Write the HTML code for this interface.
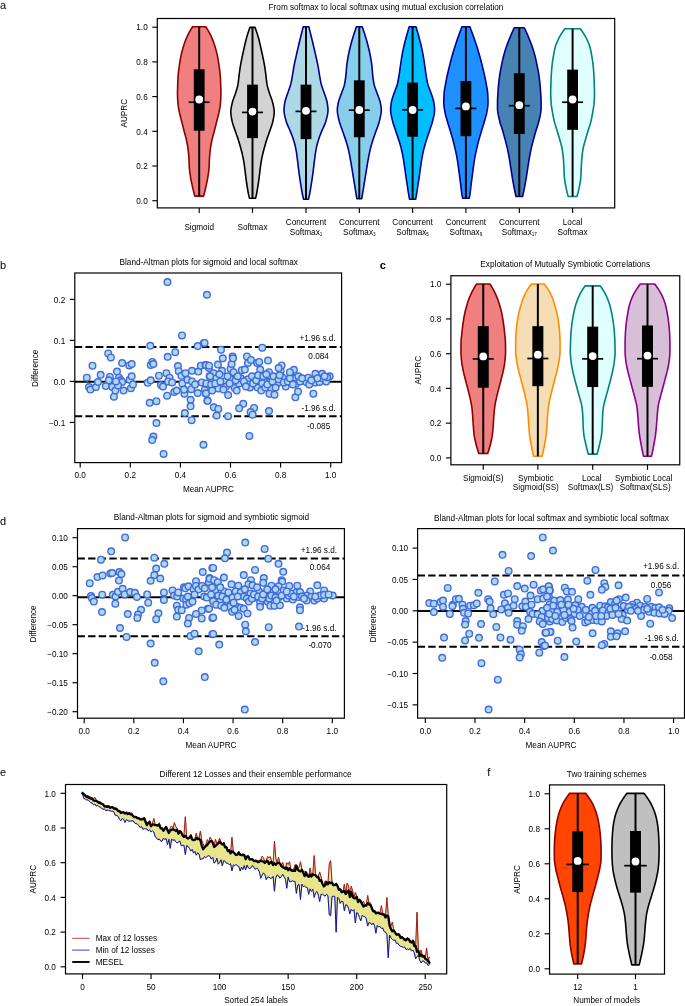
<!DOCTYPE html>
<html><head><meta charset="utf-8"><title>figure</title>
<style>
html,body{margin:0;padding:0;background:#fff;}
body{width:685px;height:1006px;overflow:hidden;}
svg{display:block;will-change:transform;opacity:0.9999;}
text{font-family:"Liberation Sans",sans-serif;fill:#000;}
</style></head><body>
<svg width="685" height="1006" viewBox="0 0 685 1006">
<rect width="685" height="1006" fill="#fff"/>
<text x="-0.1" y="8.9" font-size="11" text-anchor="start">a</text>
<text x="386" y="10.2" font-size="8.2" text-anchor="middle">From softmax to local softmax using mutual exclusion correlation</text>
<path d="M192.6 26.8 L191.39 28.7 L190.24 30.61 L189.16 32.51 L188.15 34.41 L187.22 36.31 L186.37 38.22 L185.6 40.12 L184.89 42.02 L184.23 43.92 L183.62 45.82 L183.06 47.73 L182.52 49.63 L182.01 51.53 L181.53 53.43 L181.1 55.34 L180.71 57.24 L180.36 59.14 L180.03 61.04 L179.73 62.94 L179.46 64.85 L179.19 66.75 L178.93 68.65 L178.68 70.55 L178.45 72.46 L178.26 74.36 L178.12 76.26 L177.99 78.16 L177.88 80.06 L177.79 81.97 L177.72 83.87 L177.66 85.77 L177.6 87.67 L177.55 89.58 L177.51 91.48 L177.5 93.38 L177.52 95.28 L177.58 97.19 L177.67 99.09 L177.79 100.99 L177.91 102.89 L178.1 104.79 L178.36 106.7 L178.68 108.6 L179.03 110.5 L179.4 112.4 L179.82 114.31 L180.3 116.21 L180.81 118.11 L181.32 120.01 L181.8 121.91 L182.28 123.82 L182.75 125.72 L183.22 127.62 L183.7 129.52 L184.2 131.43 L184.71 133.33 L185.24 135.23 L185.74 137.13 L186.2 139.04 L186.61 140.94 L187.01 142.84 L187.38 144.74 L187.71 146.64 L187.98 148.55 L188.22 150.45 L188.43 152.35 L188.62 154.25 L188.78 156.16 L188.91 158.06 L189 159.96 L189.08 161.86 L189.14 163.76 L189.22 165.67 L189.33 167.57 L189.5 169.47 L189.72 171.37 L189.97 173.28 L190.24 175.18 L190.53 177.08 L190.86 178.98 L191.23 180.88 L191.63 182.79 L192.04 184.69 L192.45 186.59 L192.89 188.49 L193.34 190.4 L193.81 192.3 L194.3 194.2 L194.8 196.1 L203.6 196.1 L204.1 194.2 L204.59 192.3 L205.06 190.4 L205.51 188.49 L205.95 186.59 L206.36 184.69 L206.77 182.79 L207.17 180.88 L207.54 178.98 L207.87 177.08 L208.16 175.18 L208.43 173.28 L208.68 171.37 L208.9 169.47 L209.07 167.57 L209.18 165.67 L209.26 163.76 L209.32 161.86 L209.4 159.96 L209.49 158.06 L209.62 156.16 L209.78 154.25 L209.97 152.35 L210.18 150.45 L210.42 148.55 L210.69 146.64 L211.02 144.74 L211.39 142.84 L211.79 140.94 L212.2 139.04 L212.66 137.13 L213.16 135.23 L213.69 133.33 L214.2 131.43 L214.7 129.52 L215.18 127.62 L215.65 125.72 L216.12 123.82 L216.6 121.91 L217.08 120.01 L217.59 118.11 L218.1 116.21 L218.58 114.31 L219 112.4 L219.37 110.5 L219.72 108.6 L220.04 106.7 L220.3 104.79 L220.49 102.89 L220.61 100.99 L220.73 99.09 L220.82 97.19 L220.88 95.28 L220.9 93.38 L220.89 91.48 L220.85 89.58 L220.8 87.67 L220.74 85.77 L220.68 83.87 L220.61 81.97 L220.52 80.06 L220.41 78.16 L220.28 76.26 L220.14 74.36 L219.95 72.46 L219.72 70.55 L219.47 68.65 L219.21 66.75 L218.94 64.85 L218.67 62.94 L218.37 61.04 L218.04 59.14 L217.69 57.24 L217.3 55.34 L216.87 53.43 L216.39 51.53 L215.88 49.63 L215.34 47.73 L214.78 45.82 L214.17 43.92 L213.51 42.02 L212.8 40.12 L212.03 38.22 L211.18 36.31 L210.25 34.41 L209.24 32.51 L208.16 30.61 L207.01 28.7 L205.8 26.8 Z" fill="#F08080" stroke="#8B0000" stroke-width="1.6" stroke-linejoin="round"/>
<line x1="199.2" y1="26.8" x2="199.2" y2="196.1" stroke="#000" stroke-width="2"/>
<rect x="193.8" y="69.29" width="10.8" height="61.41" fill="#000"/>
<line x1="188.7" y1="102.24" x2="209.7" y2="102.24" stroke="#000" stroke-width="1.7"/>
<circle cx="199.2" cy="99.48" r="3.9" fill="#fff"/>
<path d="M250 27.35 L249.3 29.27 L248.62 31.19 L247.98 33.12 L247.37 35.04 L246.8 36.96 L246.27 38.88 L245.77 40.8 L245.31 42.72 L244.86 44.64 L244.43 46.56 L243.99 48.48 L243.56 50.4 L243.14 52.32 L242.73 54.24 L242.32 56.17 L241.93 58.09 L241.53 60.01 L241.14 61.93 L240.77 63.85 L240.43 65.77 L240.13 67.69 L239.84 69.61 L239.58 71.53 L239.32 73.45 L239.07 75.37 L238.85 77.3 L238.65 79.22 L238.44 81.14 L238.2 83.06 L237.88 84.98 L237.44 86.9 L236.89 88.82 L236.29 90.74 L235.67 92.66 L235.06 94.58 L234.36 96.5 L233.64 98.42 L232.96 100.35 L232.41 102.27 L231.97 104.19 L231.54 106.11 L231.17 108.03 L230.9 109.95 L230.8 111.87 L230.88 113.79 L231.1 115.71 L231.42 117.63 L231.79 119.55 L232.18 121.47 L232.66 123.4 L233.26 125.32 L233.93 127.24 L234.61 129.16 L235.26 131.08 L235.94 133 L236.63 134.92 L237.31 136.84 L237.97 138.76 L238.58 140.68 L239.17 142.6 L239.74 144.52 L240.29 146.45 L240.82 148.37 L241.32 150.29 L241.82 152.21 L242.29 154.13 L242.72 156.05 L243.12 157.97 L243.48 159.89 L243.81 161.81 L244.12 163.73 L244.4 165.65 L244.67 167.58 L244.91 169.5 L245.13 171.42 L245.35 173.34 L245.58 175.26 L245.82 177.18 L246.08 179.1 L246.34 181.02 L246.62 182.94 L246.91 184.86 L247.21 186.78 L247.52 188.7 L247.84 190.63 L248.19 192.55 L248.57 194.47 L249 196.39 L249.5 198.31 L255.5 198.31 L256 196.39 L256.43 194.47 L256.81 192.55 L257.16 190.63 L257.48 188.7 L257.79 186.78 L258.09 184.86 L258.38 182.94 L258.66 181.02 L258.92 179.1 L259.18 177.18 L259.42 175.26 L259.65 173.34 L259.87 171.42 L260.09 169.5 L260.33 167.58 L260.6 165.65 L260.88 163.73 L261.19 161.81 L261.52 159.89 L261.88 157.97 L262.28 156.05 L262.71 154.13 L263.18 152.21 L263.68 150.29 L264.18 148.37 L264.71 146.45 L265.26 144.52 L265.83 142.6 L266.42 140.68 L267.03 138.76 L267.69 136.84 L268.37 134.92 L269.06 133 L269.74 131.08 L270.39 129.16 L271.07 127.24 L271.74 125.32 L272.34 123.4 L272.82 121.47 L273.21 119.55 L273.58 117.63 L273.9 115.71 L274.12 113.79 L274.2 111.87 L274.1 109.95 L273.83 108.03 L273.46 106.11 L273.03 104.19 L272.59 102.27 L272.04 100.35 L271.36 98.42 L270.64 96.5 L269.94 94.58 L269.33 92.66 L268.71 90.74 L268.11 88.82 L267.56 86.9 L267.12 84.98 L266.8 83.06 L266.56 81.14 L266.35 79.22 L266.15 77.3 L265.93 75.37 L265.68 73.45 L265.42 71.53 L265.16 69.61 L264.87 67.69 L264.57 65.77 L264.23 63.85 L263.86 61.93 L263.47 60.01 L263.07 58.09 L262.68 56.17 L262.27 54.24 L261.86 52.32 L261.44 50.4 L261.01 48.48 L260.57 46.56 L260.14 44.64 L259.69 42.72 L259.23 40.8 L258.73 38.88 L258.2 36.96 L257.63 35.04 L257.02 33.12 L256.38 31.19 L255.7 29.27 L255 27.35 Z" fill="#D3D3D3" stroke="#000" stroke-width="1.6" stroke-linejoin="round"/>
<line x1="252.5" y1="27.35" x2="252.5" y2="198.31" stroke="#000" stroke-width="2"/>
<rect x="247.1" y="84.64" width="10.8" height="53.48" fill="#000"/>
<line x1="242" y1="112.41" x2="263" y2="112.41" stroke="#000" stroke-width="1.7"/>
<circle cx="252.5" cy="111.55" r="3.9" fill="#fff"/>
<path d="M303.2 26.8 L302.7 28.74 L302.21 30.68 L301.73 32.61 L301.24 34.55 L300.76 36.49 L300.29 38.43 L299.82 40.36 L299.35 42.3 L298.89 44.24 L298.43 46.18 L297.97 48.11 L297.52 50.05 L297.08 51.99 L296.64 53.92 L296.2 55.86 L295.77 57.8 L295.33 59.74 L294.89 61.67 L294.47 63.61 L294.08 65.55 L293.73 67.49 L293.41 69.42 L293.12 71.36 L292.81 73.3 L292.48 75.24 L292.14 77.17 L291.8 79.11 L291.43 81.05 L291.02 82.99 L290.55 84.92 L289.96 86.86 L289.28 88.8 L288.57 90.73 L287.88 92.67 L287.24 94.61 L286.56 96.55 L285.89 98.48 L285.3 100.42 L284.86 102.36 L284.55 104.3 L284.28 106.23 L284.08 108.17 L284 110.11 L284.1 112.05 L284.37 113.98 L284.76 115.92 L285.24 117.86 L285.75 119.8 L286.28 121.73 L286.97 123.67 L287.81 125.61 L288.7 127.55 L289.57 129.48 L290.35 131.42 L291.14 133.36 L291.91 135.29 L292.64 137.23 L293.3 139.17 L293.89 141.11 L294.45 143.04 L294.97 144.98 L295.43 146.92 L295.83 148.86 L296.18 150.79 L296.49 152.73 L296.77 154.67 L297.03 156.61 L297.29 158.54 L297.53 160.48 L297.76 162.42 L297.98 164.36 L298.21 166.29 L298.45 168.23 L298.69 170.17 L298.94 172.1 L299.2 174.04 L299.46 175.98 L299.74 177.92 L300.02 179.85 L300.32 181.79 L300.62 183.73 L300.94 185.67 L301.25 187.6 L301.57 189.54 L301.9 191.48 L302.26 193.42 L302.65 195.35 L303.11 197.29 L303.6 199.23 L308.4 199.23 L308.89 197.29 L309.35 195.35 L309.74 193.42 L310.1 191.48 L310.43 189.54 L310.75 187.6 L311.06 185.67 L311.38 183.73 L311.68 181.79 L311.98 179.85 L312.26 177.92 L312.54 175.98 L312.8 174.04 L313.06 172.1 L313.31 170.17 L313.55 168.23 L313.79 166.29 L314.02 164.36 L314.24 162.42 L314.47 160.48 L314.71 158.54 L314.97 156.61 L315.23 154.67 L315.51 152.73 L315.82 150.79 L316.17 148.86 L316.57 146.92 L317.03 144.98 L317.55 143.04 L318.11 141.11 L318.7 139.17 L319.36 137.23 L320.09 135.29 L320.86 133.36 L321.65 131.42 L322.43 129.48 L323.3 127.55 L324.19 125.61 L325.03 123.67 L325.72 121.73 L326.25 119.8 L326.76 117.86 L327.24 115.92 L327.63 113.98 L327.9 112.05 L328 110.11 L327.92 108.17 L327.72 106.23 L327.45 104.3 L327.14 102.36 L326.7 100.42 L326.11 98.48 L325.44 96.55 L324.76 94.61 L324.12 92.67 L323.43 90.73 L322.72 88.8 L322.04 86.86 L321.45 84.92 L320.98 82.99 L320.57 81.05 L320.2 79.11 L319.86 77.17 L319.52 75.24 L319.19 73.3 L318.88 71.36 L318.59 69.42 L318.27 67.49 L317.92 65.55 L317.53 63.61 L317.11 61.67 L316.67 59.74 L316.23 57.8 L315.8 55.86 L315.36 53.92 L314.92 51.99 L314.48 50.05 L314.03 48.11 L313.57 46.18 L313.11 44.24 L312.65 42.3 L312.18 40.36 L311.71 38.43 L311.24 36.49 L310.76 34.55 L310.27 32.61 L309.79 30.68 L309.3 28.74 L308.8 26.8 Z" fill="#ADD8E6" stroke="#00008B" stroke-width="1.6" stroke-linejoin="round"/>
<line x1="306" y1="26.8" x2="306" y2="199.23" stroke="#000" stroke-width="2"/>
<rect x="300.6" y="84.64" width="10.8" height="54.51" fill="#000"/>
<line x1="295.5" y1="111.38" x2="316.5" y2="111.38" stroke="#000" stroke-width="1.7"/>
<circle cx="306" cy="110.86" r="3.9" fill="#fff"/>
<path d="M356.4 26.8 L355.72 28.73 L355.05 30.66 L354.41 32.6 L353.78 34.53 L353.18 36.46 L352.6 38.39 L352.03 40.32 L351.49 42.25 L350.96 44.18 L350.46 46.11 L349.99 48.04 L349.53 49.98 L349.09 51.91 L348.67 53.84 L348.28 55.77 L347.93 57.7 L347.6 59.63 L347.29 61.56 L347.01 63.49 L346.76 65.43 L346.56 67.36 L346.4 69.29 L346.25 71.22 L346.09 73.15 L345.91 75.08 L345.68 77.01 L345.43 78.94 L345.14 80.87 L344.8 82.81 L344.41 84.74 L343.88 86.67 L343.22 88.6 L342.5 90.53 L341.77 92.46 L341.1 94.39 L340.37 96.32 L339.63 98.26 L338.96 100.19 L338.43 102.12 L338.04 104.05 L337.69 105.98 L337.42 107.91 L337.3 109.84 L337.37 111.77 L337.6 113.7 L337.94 115.64 L338.36 117.57 L338.82 119.5 L339.28 121.43 L339.82 123.36 L340.47 125.29 L341.18 127.22 L341.9 129.15 L342.57 131.09 L343.26 133.02 L343.95 134.95 L344.63 136.88 L345.28 138.81 L345.9 140.74 L346.51 142.67 L347.09 144.6 L347.64 146.53 L348.15 148.47 L348.6 150.4 L349.02 152.33 L349.41 154.26 L349.78 156.19 L350.15 158.12 L350.5 160.05 L350.84 161.98 L351.17 163.92 L351.5 165.85 L351.82 167.78 L352.14 169.71 L352.45 171.64 L352.77 173.57 L353.08 175.5 L353.39 177.43 L353.71 179.36 L354.02 181.3 L354.34 183.23 L354.65 185.16 L354.97 187.09 L355.28 189.02 L355.59 190.95 L355.91 192.88 L356.23 194.81 L356.56 196.75 L356.9 198.68 L361.7 198.68 L362.04 196.75 L362.37 194.81 L362.69 192.88 L363.01 190.95 L363.32 189.02 L363.63 187.09 L363.95 185.16 L364.26 183.23 L364.58 181.3 L364.89 179.36 L365.21 177.43 L365.52 175.5 L365.83 173.57 L366.15 171.64 L366.46 169.71 L366.78 167.78 L367.1 165.85 L367.43 163.92 L367.76 161.98 L368.1 160.05 L368.45 158.12 L368.82 156.19 L369.19 154.26 L369.58 152.33 L370 150.4 L370.45 148.47 L370.96 146.53 L371.51 144.6 L372.09 142.67 L372.7 140.74 L373.32 138.81 L373.97 136.88 L374.65 134.95 L375.34 133.02 L376.03 131.09 L376.7 129.15 L377.42 127.22 L378.13 125.29 L378.78 123.36 L379.32 121.43 L379.78 119.5 L380.24 117.57 L380.66 115.64 L381 113.7 L381.23 111.77 L381.3 109.84 L381.18 107.91 L380.91 105.98 L380.56 104.05 L380.17 102.12 L379.64 100.19 L378.97 98.26 L378.23 96.32 L377.5 94.39 L376.83 92.46 L376.1 90.53 L375.38 88.6 L374.72 86.67 L374.19 84.74 L373.8 82.81 L373.46 80.87 L373.17 78.94 L372.92 77.01 L372.69 75.08 L372.51 73.15 L372.35 71.22 L372.2 69.29 L372.04 67.36 L371.84 65.43 L371.59 63.49 L371.31 61.56 L371 59.63 L370.67 57.7 L370.32 55.77 L369.93 53.84 L369.51 51.91 L369.07 49.98 L368.61 48.04 L368.14 46.11 L367.64 44.18 L367.11 42.25 L366.57 40.32 L366 38.39 L365.42 36.46 L364.82 34.53 L364.19 32.6 L363.55 30.66 L362.88 28.73 L362.2 26.8 Z" fill="#87CEEB" stroke="#00008B" stroke-width="1.6" stroke-linejoin="round"/>
<line x1="359.3" y1="26.8" x2="359.3" y2="198.68" stroke="#000" stroke-width="2"/>
<rect x="353.9" y="80.33" width="10.8" height="56.92" fill="#000"/>
<line x1="348.8" y1="110.17" x2="369.8" y2="110.17" stroke="#000" stroke-width="1.7"/>
<circle cx="359.3" cy="110" r="3.9" fill="#fff"/>
<path d="M409.2 26.8 L408.62 28.74 L408.05 30.68 L407.49 32.61 L406.94 34.55 L406.41 36.49 L405.89 38.43 L405.38 40.36 L404.87 42.3 L404.38 44.24 L403.92 46.18 L403.48 48.11 L403.07 50.05 L402.68 51.99 L402.31 53.92 L401.96 55.86 L401.63 57.8 L401.32 59.74 L401.03 61.67 L400.74 63.61 L400.46 65.55 L400.18 67.49 L399.92 69.42 L399.66 71.36 L399.39 73.3 L399.09 75.24 L398.76 77.17 L398.42 79.11 L398.05 81.05 L397.63 82.99 L397.14 84.92 L396.52 86.86 L395.78 88.8 L395.02 90.73 L394.29 92.67 L393.64 94.61 L392.97 96.55 L392.33 98.48 L391.77 100.42 L391.35 102.36 L391.08 104.3 L390.84 106.23 L390.66 108.17 L390.6 110.11 L390.7 112.05 L390.97 113.98 L391.35 115.92 L391.81 117.86 L392.29 119.8 L392.75 121.73 L393.29 123.67 L393.91 125.61 L394.57 127.55 L395.23 129.48 L395.87 131.42 L396.53 133.36 L397.2 135.29 L397.87 137.23 L398.5 139.17 L399.11 141.11 L399.72 143.04 L400.3 144.98 L400.85 146.92 L401.34 148.86 L401.79 150.79 L402.21 152.73 L402.61 154.67 L402.97 156.61 L403.32 158.54 L403.63 160.48 L403.93 162.42 L404.21 164.36 L404.49 166.29 L404.77 168.23 L405.04 170.17 L405.31 172.1 L405.58 174.04 L405.86 175.98 L406.15 177.92 L406.44 179.85 L406.74 181.79 L407.04 183.73 L407.33 185.67 L407.62 187.6 L407.9 189.54 L408.19 191.48 L408.5 193.42 L408.83 195.35 L409.2 197.29 L409.6 199.23 L415.6 199.23 L416 197.29 L416.37 195.35 L416.7 193.42 L417.01 191.48 L417.3 189.54 L417.58 187.6 L417.87 185.67 L418.16 183.73 L418.46 181.79 L418.76 179.85 L419.05 177.92 L419.34 175.98 L419.62 174.04 L419.89 172.1 L420.16 170.17 L420.43 168.23 L420.71 166.29 L420.99 164.36 L421.27 162.42 L421.57 160.48 L421.88 158.54 L422.23 156.61 L422.59 154.67 L422.99 152.73 L423.41 150.79 L423.86 148.86 L424.35 146.92 L424.9 144.98 L425.48 143.04 L426.09 141.11 L426.7 139.17 L427.33 137.23 L428 135.29 L428.67 133.36 L429.33 131.42 L429.97 129.48 L430.63 127.55 L431.29 125.61 L431.91 123.67 L432.45 121.73 L432.91 119.8 L433.39 117.86 L433.85 115.92 L434.23 113.98 L434.5 112.05 L434.6 110.11 L434.54 108.17 L434.36 106.23 L434.12 104.3 L433.85 102.36 L433.43 100.42 L432.87 98.48 L432.23 96.55 L431.56 94.61 L430.91 92.67 L430.18 90.73 L429.42 88.8 L428.68 86.86 L428.06 84.92 L427.57 82.99 L427.15 81.05 L426.78 79.11 L426.44 77.17 L426.11 75.24 L425.81 73.3 L425.54 71.36 L425.28 69.42 L425.02 67.49 L424.74 65.55 L424.46 63.61 L424.17 61.67 L423.88 59.74 L423.57 57.8 L423.24 55.86 L422.89 53.92 L422.52 51.99 L422.13 50.05 L421.72 48.11 L421.28 46.18 L420.82 44.24 L420.33 42.3 L419.82 40.36 L419.31 38.43 L418.79 36.49 L418.26 34.55 L417.71 32.61 L417.15 30.68 L416.58 28.74 L416 26.8 Z" fill="#00BFFF" stroke="#00008B" stroke-width="1.6" stroke-linejoin="round"/>
<line x1="412.6" y1="26.8" x2="412.6" y2="199.23" stroke="#000" stroke-width="2"/>
<rect x="407.2" y="82.57" width="10.8" height="54.17" fill="#000"/>
<line x1="402.1" y1="109.83" x2="423.1" y2="109.83" stroke="#000" stroke-width="1.7"/>
<circle cx="412.6" cy="110" r="3.9" fill="#fff"/>
<path d="M461.9 26.8 L461.18 28.73 L460.47 30.66 L459.76 32.58 L459.07 34.51 L458.38 36.44 L457.71 38.36 L457.03 40.29 L456.37 42.22 L455.72 44.14 L455.08 46.07 L454.47 48 L453.87 49.93 L453.3 51.85 L452.74 53.78 L452.19 55.71 L451.66 57.63 L451.14 59.56 L450.64 61.49 L450.14 63.42 L449.65 65.34 L449.17 67.27 L448.69 69.2 L448.22 71.12 L447.77 73.05 L447.34 74.98 L446.93 76.9 L446.53 78.83 L446.15 80.76 L445.79 82.69 L445.45 84.61 L445.1 86.54 L444.75 88.47 L444.43 90.39 L444.19 92.32 L444.06 94.25 L443.97 96.18 L443.89 98.1 L443.83 100.03 L443.8 101.96 L443.83 103.88 L443.98 105.81 L444.22 107.74 L444.52 109.66 L444.85 111.59 L445.21 113.52 L445.68 115.45 L446.21 117.37 L446.78 119.3 L447.33 121.23 L447.9 123.15 L448.49 125.08 L449.09 127.01 L449.69 128.94 L450.27 130.86 L450.85 132.79 L451.43 134.72 L452 136.64 L452.55 138.57 L453.07 140.5 L453.58 142.42 L454.07 144.35 L454.54 146.28 L454.99 148.21 L455.43 150.13 L455.85 152.06 L456.26 153.99 L456.64 155.91 L457 157.84 L457.32 159.77 L457.62 161.69 L457.91 163.62 L458.19 165.55 L458.46 167.48 L458.72 169.4 L458.97 171.33 L459.22 173.26 L459.46 175.18 L459.71 177.11 L459.97 179.04 L460.22 180.97 L460.47 182.89 L460.72 184.82 L460.95 186.75 L461.16 188.67 L461.37 190.6 L461.6 192.53 L461.87 194.45 L462.24 196.38 L462.7 198.31 L469.1 198.31 L469.56 196.38 L469.93 194.45 L470.2 192.53 L470.43 190.6 L470.64 188.67 L470.85 186.75 L471.08 184.82 L471.33 182.89 L471.58 180.97 L471.83 179.04 L472.09 177.11 L472.34 175.18 L472.58 173.26 L472.83 171.33 L473.08 169.4 L473.34 167.48 L473.61 165.55 L473.89 163.62 L474.18 161.69 L474.48 159.77 L474.8 157.84 L475.16 155.91 L475.54 153.99 L475.95 152.06 L476.37 150.13 L476.81 148.21 L477.26 146.28 L477.73 144.35 L478.22 142.42 L478.73 140.5 L479.25 138.57 L479.8 136.64 L480.37 134.72 L480.95 132.79 L481.53 130.86 L482.11 128.94 L482.71 127.01 L483.31 125.08 L483.9 123.15 L484.47 121.23 L485.02 119.3 L485.59 117.37 L486.12 115.45 L486.59 113.52 L486.95 111.59 L487.28 109.66 L487.58 107.74 L487.82 105.81 L487.97 103.88 L488 101.96 L487.97 100.03 L487.91 98.1 L487.83 96.18 L487.74 94.25 L487.61 92.32 L487.37 90.39 L487.05 88.47 L486.7 86.54 L486.35 84.61 L486.01 82.69 L485.65 80.76 L485.27 78.83 L484.87 76.9 L484.46 74.98 L484.03 73.05 L483.58 71.12 L483.11 69.2 L482.63 67.27 L482.15 65.34 L481.66 63.42 L481.16 61.49 L480.66 59.56 L480.14 57.63 L479.61 55.71 L479.06 53.78 L478.5 51.85 L477.93 49.93 L477.33 48 L476.72 46.07 L476.08 44.14 L475.43 42.22 L474.77 40.29 L474.09 38.36 L473.42 36.44 L472.73 34.51 L472.04 32.58 L471.33 30.66 L470.62 28.73 L469.9 26.8 Z" fill="#1E90FF" stroke="#00008B" stroke-width="1.6" stroke-linejoin="round"/>
<line x1="465.9" y1="26.8" x2="465.9" y2="198.31" stroke="#000" stroke-width="2"/>
<rect x="460.5" y="81.02" width="10.8" height="55.2" fill="#000"/>
<line x1="455.4" y1="108.45" x2="476.4" y2="108.45" stroke="#000" stroke-width="1.7"/>
<circle cx="465.9" cy="106.38" r="3.9" fill="#fff"/>
<path d="M514.3 27.72 L513.41 29.62 L512.55 31.51 L511.71 33.41 L510.88 35.3 L510.09 37.2 L509.31 39.1 L508.54 40.99 L507.8 42.89 L507.08 44.79 L506.4 46.68 L505.77 48.58 L505.17 50.47 L504.6 52.37 L504.06 54.27 L503.55 56.16 L503.08 58.06 L502.65 59.95 L502.24 61.85 L501.85 63.75 L501.46 65.64 L501.08 67.54 L500.7 69.43 L500.34 71.33 L500 73.23 L499.7 75.12 L499.44 77.02 L499.19 78.91 L498.97 80.81 L498.76 82.71 L498.58 84.6 L498.41 86.5 L498.25 88.39 L498.11 90.29 L497.98 92.19 L497.87 94.08 L497.76 95.98 L497.65 97.88 L497.56 99.77 L497.51 101.67 L497.5 103.56 L497.5 105.46 L497.5 107.36 L497.52 109.25 L497.67 111.15 L497.94 113.04 L498.3 114.94 L498.71 116.84 L499.15 118.73 L499.59 120.63 L500.05 122.52 L500.61 124.42 L501.22 126.32 L501.85 128.21 L502.45 130.11 L503 132 L503.55 133.9 L504.09 135.8 L504.62 137.69 L505.13 139.59 L505.63 141.48 L506.12 143.38 L506.6 145.28 L507.06 147.17 L507.49 149.07 L507.89 150.96 L508.27 152.86 L508.63 154.76 L508.98 156.65 L509.32 158.55 L509.64 160.45 L509.95 162.34 L510.26 164.24 L510.55 166.13 L510.85 168.03 L511.14 169.93 L511.42 171.82 L511.7 173.72 L512 175.61 L512.31 177.51 L512.62 179.41 L512.95 181.3 L513.29 183.2 L513.63 185.09 L514 186.99 L514.37 188.89 L514.76 190.78 L515.16 192.68 L515.57 194.57 L516 196.47 L522.6 196.47 L523.03 194.57 L523.44 192.68 L523.84 190.78 L524.23 188.89 L524.6 186.99 L524.97 185.09 L525.31 183.2 L525.65 181.3 L525.98 179.41 L526.29 177.51 L526.6 175.61 L526.9 173.72 L527.18 171.82 L527.46 169.93 L527.75 168.03 L528.05 166.13 L528.34 164.24 L528.65 162.34 L528.96 160.45 L529.28 158.55 L529.62 156.65 L529.97 154.76 L530.33 152.86 L530.71 150.96 L531.11 149.07 L531.54 147.17 L532 145.28 L532.48 143.38 L532.97 141.48 L533.47 139.59 L533.98 137.69 L534.51 135.8 L535.05 133.9 L535.6 132 L536.15 130.11 L536.75 128.21 L537.38 126.32 L537.99 124.42 L538.55 122.52 L539.01 120.63 L539.45 118.73 L539.89 116.84 L540.3 114.94 L540.66 113.04 L540.93 111.15 L541.08 109.25 L541.1 107.36 L541.1 105.46 L541.1 103.56 L541.09 101.67 L541.04 99.77 L540.95 97.88 L540.84 95.98 L540.73 94.08 L540.62 92.19 L540.49 90.29 L540.35 88.39 L540.19 86.5 L540.02 84.6 L539.84 82.71 L539.63 80.81 L539.41 78.91 L539.16 77.02 L538.9 75.12 L538.6 73.23 L538.26 71.33 L537.9 69.43 L537.52 67.54 L537.14 65.64 L536.75 63.75 L536.36 61.85 L535.95 59.95 L535.52 58.06 L535.05 56.16 L534.54 54.27 L534 52.37 L533.43 50.47 L532.83 48.58 L532.2 46.68 L531.52 44.79 L530.8 42.89 L530.06 40.99 L529.29 39.1 L528.51 37.2 L527.72 35.3 L526.89 33.41 L526.05 31.51 L525.19 29.62 L524.3 27.72 Z" fill="#4682B4" stroke="#00008B" stroke-width="1.6" stroke-linejoin="round"/>
<line x1="519.3" y1="27.72" x2="519.3" y2="196.47" stroke="#000" stroke-width="2"/>
<rect x="513.9" y="73.26" width="10.8" height="60.72" fill="#000"/>
<line x1="508.8" y1="105.69" x2="529.8" y2="105.69" stroke="#000" stroke-width="1.7"/>
<circle cx="519.3" cy="105.17" r="3.9" fill="#fff"/>
<path d="M564.8 28.82 L563.44 30.71 L562.15 32.59 L560.96 34.47 L559.86 36.36 L558.87 38.24 L557.96 40.13 L557.1 42.01 L556.32 43.89 L555.64 45.78 L555.08 47.66 L554.62 49.54 L554.23 51.43 L553.88 53.31 L553.56 55.19 L553.25 57.08 L552.94 58.96 L552.65 60.85 L552.38 62.73 L552.14 64.61 L551.95 66.5 L551.78 68.38 L551.62 70.26 L551.49 72.15 L551.36 74.03 L551.26 75.92 L551.16 77.8 L551.07 79.68 L550.99 81.57 L550.93 83.45 L550.87 85.33 L550.81 87.22 L550.76 89.1 L550.72 90.98 L550.7 92.87 L550.71 94.75 L550.76 96.64 L550.84 98.52 L550.95 100.4 L551.07 102.29 L551.22 104.17 L551.45 106.05 L551.74 107.94 L552.05 109.82 L552.37 111.71 L552.68 113.59 L553.02 115.47 L553.38 117.36 L553.78 119.24 L554.2 121.12 L554.7 123.01 L555.27 124.89 L555.88 126.77 L556.49 128.66 L557.07 130.54 L557.64 132.43 L558.2 134.31 L558.76 136.19 L559.3 138.08 L559.83 139.96 L560.38 141.84 L560.92 143.73 L561.43 145.61 L561.87 147.5 L562.22 149.38 L562.52 151.26 L562.78 153.15 L563.01 155.03 L563.21 156.91 L563.38 158.8 L563.52 160.68 L563.65 162.56 L563.76 164.45 L563.86 166.33 L563.96 168.22 L564.03 170.1 L564.1 171.98 L564.17 173.87 L564.27 175.75 L564.41 177.63 L564.64 179.52 L564.91 181.4 L565.22 183.28 L565.55 185.17 L565.9 187.05 L566.29 188.94 L566.71 190.82 L567.18 192.7 L567.67 194.59 L568.2 196.47 L577 196.47 L577.53 194.59 L578.02 192.7 L578.49 190.82 L578.91 188.94 L579.3 187.05 L579.65 185.17 L579.98 183.28 L580.29 181.4 L580.56 179.52 L580.79 177.63 L580.93 175.75 L581.03 173.87 L581.1 171.98 L581.17 170.1 L581.24 168.22 L581.34 166.33 L581.44 164.45 L581.55 162.56 L581.68 160.68 L581.82 158.8 L581.99 156.91 L582.19 155.03 L582.42 153.15 L582.68 151.26 L582.98 149.38 L583.33 147.5 L583.77 145.61 L584.28 143.73 L584.82 141.84 L585.37 139.96 L585.9 138.08 L586.44 136.19 L587 134.31 L587.56 132.43 L588.13 130.54 L588.71 128.66 L589.32 126.77 L589.93 124.89 L590.5 123.01 L591 121.12 L591.42 119.24 L591.82 117.36 L592.18 115.47 L592.52 113.59 L592.83 111.71 L593.15 109.82 L593.46 107.94 L593.75 106.05 L593.98 104.17 L594.13 102.29 L594.25 100.4 L594.36 98.52 L594.44 96.64 L594.49 94.75 L594.5 92.87 L594.48 90.98 L594.44 89.1 L594.39 87.22 L594.33 85.33 L594.27 83.45 L594.21 81.57 L594.13 79.68 L594.04 77.8 L593.94 75.92 L593.84 74.03 L593.71 72.15 L593.58 70.26 L593.42 68.38 L593.25 66.5 L593.06 64.61 L592.82 62.73 L592.55 60.85 L592.26 58.96 L591.95 57.08 L591.64 55.19 L591.32 53.31 L590.97 51.43 L590.58 49.54 L590.12 47.66 L589.56 45.78 L588.88 43.89 L588.1 42.01 L587.24 40.13 L586.33 38.24 L585.34 36.36 L584.24 34.47 L583.05 32.59 L581.76 30.71 L580.4 28.82 Z" fill="#E0FFFF" stroke="#008080" stroke-width="1.6" stroke-linejoin="round"/>
<line x1="572.6" y1="28.82" x2="572.6" y2="196.47" stroke="#000" stroke-width="2"/>
<rect x="567.2" y="69.63" width="10.8" height="60.2" fill="#000"/>
<line x1="562.1" y1="102.24" x2="583.1" y2="102.24" stroke="#000" stroke-width="1.7"/>
<circle cx="572.6" cy="99.48" r="3.9" fill="#fff"/>
<rect x="157.3" y="18.5" width="457.4" height="189.4" fill="none" stroke="#000" stroke-width="1.2"/>
<line x1="152.3" y1="200.7" x2="157.3" y2="200.7" stroke="#000" stroke-width="1.15"/>
<text x="147.7" y="203.95" font-size="8.2" text-anchor="end">0.0</text>
<line x1="152.3" y1="166" x2="157.3" y2="166" stroke="#000" stroke-width="1.15"/>
<text x="147.7" y="169.25" font-size="8.2" text-anchor="end">0.2</text>
<line x1="152.3" y1="131.3" x2="157.3" y2="131.3" stroke="#000" stroke-width="1.15"/>
<text x="147.7" y="134.55" font-size="8.2" text-anchor="end">0.4</text>
<line x1="152.3" y1="96.6" x2="157.3" y2="96.6" stroke="#000" stroke-width="1.15"/>
<text x="147.7" y="99.85" font-size="8.2" text-anchor="end">0.6</text>
<line x1="152.3" y1="61.9" x2="157.3" y2="61.9" stroke="#000" stroke-width="1.15"/>
<text x="147.7" y="65.15" font-size="8.2" text-anchor="end">0.8</text>
<line x1="152.3" y1="27.2" x2="157.3" y2="27.2" stroke="#000" stroke-width="1.15"/>
<text x="147.7" y="30.45" font-size="8.2" text-anchor="end">1.0</text>
<text x="127.5" y="113.2" font-size="8.2" text-anchor="middle" transform="rotate(-90 127.5 113.2)">AUPRC</text>
<line x1="199.2" y1="207.9" x2="199.2" y2="212.9" stroke="#000" stroke-width="1.15"/>
<text x="199.2" y="229.5" font-size="8.2" text-anchor="middle">Sigmoid</text>
<line x1="252.5" y1="207.9" x2="252.5" y2="212.9" stroke="#000" stroke-width="1.15"/>
<text x="252.5" y="229.5" font-size="8.2" text-anchor="middle">Softmax</text>
<line x1="306" y1="207.9" x2="306" y2="212.9" stroke="#000" stroke-width="1.15"/>
<text x="306" y="224.6" font-size="8.2" text-anchor="middle">Concurrent</text>
<text x="306" y="234.8" font-size="8.2" text-anchor="middle">Softmax<tspan font-size="4.6" dy="0.9">1</tspan></text>
<line x1="359.3" y1="207.9" x2="359.3" y2="212.9" stroke="#000" stroke-width="1.15"/>
<text x="359.3" y="224.6" font-size="8.2" text-anchor="middle">Concurrent</text>
<text x="359.3" y="234.8" font-size="8.2" text-anchor="middle">Softmax<tspan font-size="4.6" dy="0.9">3</tspan></text>
<line x1="412.6" y1="207.9" x2="412.6" y2="212.9" stroke="#000" stroke-width="1.15"/>
<text x="412.6" y="224.6" font-size="8.2" text-anchor="middle">Concurrent</text>
<text x="412.6" y="234.8" font-size="8.2" text-anchor="middle">Softmax<tspan font-size="4.6" dy="0.9">5</tspan></text>
<line x1="465.9" y1="207.9" x2="465.9" y2="212.9" stroke="#000" stroke-width="1.15"/>
<text x="465.9" y="224.6" font-size="8.2" text-anchor="middle">Concurrent</text>
<text x="465.9" y="234.8" font-size="8.2" text-anchor="middle">Softmax<tspan font-size="4.6" dy="0.9">9</tspan></text>
<line x1="519.3" y1="207.9" x2="519.3" y2="212.9" stroke="#000" stroke-width="1.15"/>
<text x="519.3" y="224.6" font-size="8.2" text-anchor="middle">Concurrent</text>
<text x="519.3" y="234.8" font-size="8.2" text-anchor="middle">Softmax<tspan font-size="4.6" dy="0.9">17</tspan></text>
<line x1="572.6" y1="207.9" x2="572.6" y2="212.9" stroke="#000" stroke-width="1.15"/>
<text x="572.6" y="224.6" font-size="8.2" text-anchor="middle">Local</text>
<text x="572.6" y="234.8" font-size="8.2" text-anchor="middle">Softmax</text>
<text x="0.1" y="268.8" font-size="11" text-anchor="start">b</text>
<text x="208.7" y="264.9" font-size="8.25" text-anchor="middle">Bland-Altman plots for sigmoid and local softmax</text>
<clipPath id="cb"><rect x="74.8" y="273" width="266.8" height="189.6"/></clipPath>
<g clip-path="url(#cb)">
<line x1="74.8" y1="381.8" x2="341.6" y2="381.8" stroke="#000" stroke-width="2"/>
<line x1="74.8" y1="346.96" x2="341.6" y2="346.96" stroke="#000" stroke-width="2" stroke-dasharray="7.4 3.2"/>
<line x1="74.8" y1="416.25" x2="341.6" y2="416.25" stroke="#000" stroke-width="2" stroke-dasharray="7.4 3.2"/>
<g fill="#ADD8E6" stroke="#4169E1" stroke-width="1.4"><circle cx="86.76" cy="377.7" r="3.3"/><circle cx="89.01" cy="387.11" r="3.3"/><circle cx="90.44" cy="389.56" r="3.3"/><circle cx="92.48" cy="365.65" r="3.3"/><circle cx="95.96" cy="387.11" r="3.3"/><circle cx="98" cy="382" r="3.3"/><circle cx="100.66" cy="374.84" r="3.3"/><circle cx="105.77" cy="386.08" r="3.3"/><circle cx="108.22" cy="353.38" r="3.3"/><circle cx="110.87" cy="357.47" r="3.3"/><circle cx="109.85" cy="376.89" r="3.3"/><circle cx="108.83" cy="380.36" r="3.3"/><circle cx="112.31" cy="386.9" r="3.3"/><circle cx="113.94" cy="396.71" r="3.3"/><circle cx="115.37" cy="390.58" r="3.3"/><circle cx="117.01" cy="371.57" r="3.3"/><circle cx="119.05" cy="377.7" r="3.3"/><circle cx="120.68" cy="380.36" r="3.3"/><circle cx="122.12" cy="362.99" r="3.3"/><circle cx="122.12" cy="382" r="3.3"/><circle cx="123.55" cy="390.58" r="3.3"/><circle cx="129.27" cy="365.44" r="3.3"/><circle cx="131.72" cy="364.01" r="3.3"/><circle cx="129.68" cy="379.75" r="3.3"/><circle cx="131.72" cy="376.27" r="3.3"/><circle cx="130.9" cy="388.13" r="3.3"/><circle cx="132.95" cy="384.45" r="3.3"/><circle cx="118.03" cy="385.47" r="3.3"/><circle cx="115.98" cy="381.38" r="3.3"/><circle cx="147.66" cy="382.81" r="3.3"/><circle cx="150.73" cy="380.36" r="3.3"/><circle cx="150.32" cy="345.82" r="3.3"/><circle cx="150.73" cy="365.03" r="3.3"/><circle cx="152.36" cy="361.97" r="3.3"/><circle cx="153.38" cy="364.01" r="3.3"/><circle cx="149.71" cy="402.84" r="3.3"/><circle cx="156.45" cy="401.21" r="3.3"/><circle cx="158.9" cy="375.66" r="3.3"/><circle cx="160.95" cy="385.06" r="3.3"/><circle cx="162.99" cy="386.49" r="3.3"/><circle cx="156.45" cy="423.08" r="3.3"/><circle cx="153.38" cy="436.56" r="3.3"/><circle cx="152.16" cy="440.04" r="3.3"/><circle cx="163.6" cy="453.94" r="3.3"/><circle cx="167.49" cy="282.06" r="3.3"/><circle cx="166.46" cy="373.21" r="3.3"/><circle cx="167.69" cy="356.86" r="3.3"/><circle cx="167.08" cy="395.69" r="3.3"/><circle cx="169.53" cy="377.7" r="3.3"/><circle cx="168.1" cy="381.38" r="3.3"/><circle cx="172.19" cy="382.41" r="3.3"/><circle cx="175.25" cy="352.16" r="3.3"/><circle cx="174.23" cy="392.01" r="3.3"/><circle cx="176.68" cy="390.58" r="3.3"/><circle cx="177.91" cy="366.06" r="3.3"/><circle cx="178.73" cy="371.16" r="3.3"/><circle cx="181.38" cy="375.87" r="3.3"/><circle cx="182" cy="335.4" r="3.3"/><circle cx="182.41" cy="383.43" r="3.3"/><circle cx="185.47" cy="373.21" r="3.3"/><circle cx="187.51" cy="379.75" r="3.3"/><circle cx="184.45" cy="393.65" r="3.3"/><circle cx="184.04" cy="389.56" r="3.3"/><circle cx="184.86" cy="413.06" r="3.3"/><circle cx="190.58" cy="399.78" r="3.3"/><circle cx="190.58" cy="406.32" r="3.3"/><circle cx="191.6" cy="420.21" r="3.3"/><circle cx="191.19" cy="389.15" r="3.3"/><circle cx="192.01" cy="381.38" r="3.3"/><circle cx="192.01" cy="370.76" r="3.3"/><circle cx="195.08" cy="384.45" r="3.3"/><circle cx="197.73" cy="346.03" r="3.3"/><circle cx="198.35" cy="371.57" r="3.3"/><circle cx="197.73" cy="393.03" r="3.3"/><circle cx="200.8" cy="365.65" r="3.3"/><circle cx="201.82" cy="382.41" r="3.3"/><circle cx="203.86" cy="342.96" r="3.3"/><circle cx="205.5" cy="365.03" r="3.3"/><circle cx="204.89" cy="389.56" r="3.3"/><circle cx="206.52" cy="384.04" r="3.3"/><circle cx="205.91" cy="393.65" r="3.3"/><circle cx="207.34" cy="400.8" r="3.3"/><circle cx="206.93" cy="294.73" r="3.3"/><circle cx="203.46" cy="444.74" r="3.3"/><circle cx="208.97" cy="368.1" r="3.3"/><circle cx="209.59" cy="376.27" r="3.3"/><circle cx="204.61" cy="342.96" r="3.3"/><circle cx="206.04" cy="365.03" r="3.3"/><circle cx="209.11" cy="365.65" r="3.3"/><circle cx="206.45" cy="383.43" r="3.3"/><circle cx="206.04" cy="393.24" r="3.3"/><circle cx="207.68" cy="400.8" r="3.3"/><circle cx="213.61" cy="373.21" r="3.3"/><circle cx="213.81" cy="407.34" r="3.3"/><circle cx="218.31" cy="408.97" r="3.3"/><circle cx="216.67" cy="415.51" r="3.3"/><circle cx="228.12" cy="416.13" r="3.3"/><circle cx="217.9" cy="364.62" r="3.3"/><circle cx="221.98" cy="370.76" r="3.3"/><circle cx="220.96" cy="349.71" r="3.3"/><circle cx="222.8" cy="358.29" r="3.3"/><circle cx="218.31" cy="388.54" r="3.3"/><circle cx="216.26" cy="378.32" r="3.3"/><circle cx="224.44" cy="381.38" r="3.3"/><circle cx="226.07" cy="386.49" r="3.3"/><circle cx="228.12" cy="395.08" r="3.3"/><circle cx="230.98" cy="379.34" r="3.3"/><circle cx="230.57" cy="368.71" r="3.3"/><circle cx="231.59" cy="364.01" r="3.3"/><circle cx="232.61" cy="356.45" r="3.3"/><circle cx="233.02" cy="358.29" r="3.3"/><circle cx="234.66" cy="387.92" r="3.3"/><circle cx="239.15" cy="383.43" r="3.3"/><circle cx="240.79" cy="378.32" r="3.3"/><circle cx="241.81" cy="370.14" r="3.3"/><circle cx="244.87" cy="369.53" r="3.3"/><circle cx="246.92" cy="356.45" r="3.3"/><circle cx="247.94" cy="362.99" r="3.3"/><circle cx="251.01" cy="359.92" r="3.3"/><circle cx="247.94" cy="379.34" r="3.3"/><circle cx="248.96" cy="384.45" r="3.3"/><circle cx="249.98" cy="387.51" r="3.3"/><circle cx="255.09" cy="376.68" r="3.3"/><circle cx="257.14" cy="362.99" r="3.3"/><circle cx="260.2" cy="369.53" r="3.3"/><circle cx="259.18" cy="361.97" r="3.3"/><circle cx="257.55" cy="387.51" r="3.3"/><circle cx="261.22" cy="390.58" r="3.3"/><circle cx="262.25" cy="347.66" r="3.3"/><circle cx="264.29" cy="380.36" r="3.3"/><circle cx="267.97" cy="360.54" r="3.3"/><circle cx="268.99" cy="372.19" r="3.3"/><circle cx="269.81" cy="381.79" r="3.3"/><circle cx="271.44" cy="388.54" r="3.3"/><circle cx="269.4" cy="393.65" r="3.3"/><circle cx="274.51" cy="394.67" r="3.3"/><circle cx="243.24" cy="403.86" r="3.3"/><circle cx="239.15" cy="408.36" r="3.3"/><circle cx="254.07" cy="407.95" r="3.3"/><circle cx="250.6" cy="412.04" r="3.3"/><circle cx="252.64" cy="414.7" r="3.3"/><circle cx="268.99" cy="411.02" r="3.3"/><circle cx="249.37" cy="435.95" r="3.3"/><circle cx="277.17" cy="383.43" r="3.3"/><circle cx="280.64" cy="371.16" r="3.3"/><circle cx="281.66" cy="365.44" r="3.3"/><circle cx="282.68" cy="377.7" r="3.3"/><circle cx="285.75" cy="386.49" r="3.3"/><circle cx="291.88" cy="377.3" r="3.3"/><circle cx="293.92" cy="369.73" r="3.3"/><circle cx="294.95" cy="378.32" r="3.3"/><circle cx="295.97" cy="383.84" r="3.3"/><circle cx="295.35" cy="397.32" r="3.3"/><circle cx="298.01" cy="391.6" r="3.3"/><circle cx="298.42" cy="376.27" r="3.3"/><circle cx="304.14" cy="380.36" r="3.3"/><circle cx="306.19" cy="382" r="3.3"/><circle cx="309.25" cy="384.45" r="3.3"/><circle cx="308.23" cy="377.7" r="3.3"/><circle cx="313.34" cy="393.65" r="3.3"/><circle cx="315.38" cy="373.82" r="3.3"/><circle cx="315.38" cy="382.41" r="3.3"/><circle cx="319.47" cy="382" r="3.3"/><circle cx="322.13" cy="373.82" r="3.3"/><circle cx="322.54" cy="378.32" r="3.3"/><circle cx="326.22" cy="381.38" r="3.3"/><circle cx="329.69" cy="376.27" r="3.3"/><circle cx="327.24" cy="377.3" r="3.3"/><circle cx="210.13" cy="376.27" r="3.3"/><circle cx="211.15" cy="384.45" r="3.3"/><circle cx="212.17" cy="390.58" r="3.3"/><circle cx="215.24" cy="383.43" r="3.3"/><circle cx="219.33" cy="374.23" r="3.3"/><circle cx="220.35" cy="381.38" r="3.3"/><circle cx="223.42" cy="389.56" r="3.3"/><circle cx="227.5" cy="376.27" r="3.3"/><circle cx="229.55" cy="383.43" r="3.3"/><circle cx="233.63" cy="372.19" r="3.3"/><circle cx="235.68" cy="380.36" r="3.3"/><circle cx="237.72" cy="376.27" r="3.3"/><circle cx="236.7" cy="390.58" r="3.3"/><circle cx="243.85" cy="381.38" r="3.3"/><circle cx="245.9" cy="386.49" r="3.3"/><circle cx="252.03" cy="376.27" r="3.3"/><circle cx="253.05" cy="383.43" r="3.3"/><circle cx="256.12" cy="380.36" r="3.3"/><circle cx="258.16" cy="375.25" r="3.3"/><circle cx="262.25" cy="383.43" r="3.3"/><circle cx="263.27" cy="376.27" r="3.3"/><circle cx="265.31" cy="387.51" r="3.3"/><circle cx="266.33" cy="374.23" r="3.3"/><circle cx="267.36" cy="384.45" r="3.3"/><circle cx="272.47" cy="381.38" r="3.3"/><circle cx="273.49" cy="376.27" r="3.3"/><circle cx="275.53" cy="387.51" r="3.3"/><circle cx="278.6" cy="379.34" r="3.3"/><circle cx="279.62" cy="375.25" r="3.3"/><circle cx="283.71" cy="382.41" r="3.3"/><circle cx="287.79" cy="381.38" r="3.3"/><circle cx="289.84" cy="378.32" r="3.3"/><circle cx="292.9" cy="384.45" r="3.3"/><circle cx="300.06" cy="381.38" r="3.3"/><circle cx="302.1" cy="378.32" r="3.3"/><circle cx="311.3" cy="380.36" r="3.3"/><circle cx="317.43" cy="378.32" r="3.3"/><circle cx="324.58" cy="376.27" r="3.3"/><circle cx="289.84" cy="372.19" r="3.3"/><circle cx="278.6" cy="368.1" r="3.3"/></g>
</g>
<rect x="74.8" y="273" width="266.8" height="189.6" fill="none" stroke="#000" stroke-width="1.2"/>
<line x1="69.8" y1="299.4" x2="74.8" y2="299.4" stroke="#000" stroke-width="1.15"/>
<text x="65.2" y="302.65" font-size="8.2" text-anchor="end">0.2</text>
<line x1="69.8" y1="340.4" x2="74.8" y2="340.4" stroke="#000" stroke-width="1.15"/>
<text x="65.2" y="343.65" font-size="8.2" text-anchor="end">0.1</text>
<line x1="69.8" y1="381.4" x2="74.8" y2="381.4" stroke="#000" stroke-width="1.15"/>
<text x="65.2" y="384.65" font-size="8.2" text-anchor="end">0.0</text>
<line x1="69.8" y1="422.4" x2="74.8" y2="422.4" stroke="#000" stroke-width="1.15"/>
<text x="65.2" y="425.65" font-size="8.2" text-anchor="end">−0.1</text>
<line x1="80.2" y1="462.6" x2="80.2" y2="467.6" stroke="#000" stroke-width="1.15"/>
<text x="80.2" y="478.4" font-size="8.2" text-anchor="middle">0.0</text>
<line x1="130.3" y1="462.6" x2="130.3" y2="467.6" stroke="#000" stroke-width="1.15"/>
<text x="130.3" y="478.4" font-size="8.2" text-anchor="middle">0.2</text>
<line x1="180.4" y1="462.6" x2="180.4" y2="467.6" stroke="#000" stroke-width="1.15"/>
<text x="180.4" y="478.4" font-size="8.2" text-anchor="middle">0.4</text>
<line x1="230.5" y1="462.6" x2="230.5" y2="467.6" stroke="#000" stroke-width="1.15"/>
<text x="230.5" y="478.4" font-size="8.2" text-anchor="middle">0.6</text>
<line x1="280.6" y1="462.6" x2="280.6" y2="467.6" stroke="#000" stroke-width="1.15"/>
<text x="280.6" y="478.4" font-size="8.2" text-anchor="middle">0.8</text>
<line x1="330.7" y1="462.6" x2="330.7" y2="467.6" stroke="#000" stroke-width="1.15"/>
<text x="330.7" y="478.4" font-size="8.2" text-anchor="middle">1.0</text>
<text x="208.4" y="492.4" font-size="8.2" text-anchor="middle">Mean AUPRC</text>
<text x="38.2" y="368.3" font-size="8.2" text-anchor="middle" transform="rotate(-90 38.2 368.3)">Difference</text>
<text x="335.6" y="340.7" font-size="8.2" text-anchor="end">+1.96 s.d.</text>
<text x="318.6" y="359.2" font-size="8.2" text-anchor="middle">0.084</text>
<text x="335.6" y="411" font-size="8.2" text-anchor="end">-1.96 s.d.</text>
<text x="318.6" y="428.6" font-size="8.2" text-anchor="middle">-0.085</text>
<text x="379.7" y="268.8" font-size="11" text-anchor="start" font-weight="bold">c</text>
<text x="565.2" y="267.3" font-size="8.25" text-anchor="middle">Exploitation of Mutually Symbiotic Correlations</text>
<path d="M476.45 284.07 L475.28 285.97 L474.16 287.87 L473.11 289.78 L472.11 291.68 L471.19 293.59 L470.33 295.49 L469.54 297.4 L468.81 299.3 L468.13 301.21 L467.5 303.11 L466.91 305.01 L466.36 306.92 L465.84 308.82 L465.35 310.73 L464.9 312.63 L464.5 314.54 L464.13 316.44 L463.8 318.34 L463.49 320.25 L463.21 322.15 L462.94 324.06 L462.68 325.96 L462.44 327.87 L462.21 329.77 L462 331.67 L461.81 333.58 L461.6 335.48 L461.39 337.39 L461.21 339.29 L461.09 341.2 L461.04 343.1 L461 345 L460.98 346.91 L460.96 348.81 L460.95 350.72 L460.96 352.62 L461.04 354.53 L461.17 356.43 L461.33 358.34 L461.5 360.24 L461.71 362.14 L461.97 364.05 L462.3 365.95 L462.65 367.86 L463.02 369.76 L463.41 371.67 L463.86 373.57 L464.33 375.47 L464.81 377.38 L465.29 379.28 L465.78 381.19 L466.28 383.09 L466.79 385 L467.29 386.9 L467.78 388.8 L468.28 390.71 L468.77 392.61 L469.25 394.52 L469.71 396.42 L470.14 398.33 L470.56 400.23 L470.96 402.13 L471.33 404.04 L471.65 405.94 L471.9 407.85 L472.11 409.75 L472.3 411.66 L472.46 413.56 L472.62 415.46 L472.76 417.37 L472.88 419.27 L473 421.18 L473.11 423.08 L473.24 424.99 L473.39 426.89 L473.53 428.8 L473.69 430.7 L473.87 432.6 L474.08 434.51 L474.36 436.41 L474.71 438.32 L475.11 440.22 L475.54 442.13 L475.99 444.03 L476.48 445.93 L477.01 447.84 L477.59 449.74 L478.2 451.65 L478.85 453.55 L487.65 453.55 L488.3 451.65 L488.91 449.74 L489.49 447.84 L490.02 445.93 L490.51 444.03 L490.96 442.13 L491.39 440.22 L491.79 438.32 L492.14 436.41 L492.42 434.51 L492.63 432.6 L492.81 430.7 L492.97 428.8 L493.11 426.89 L493.26 424.99 L493.39 423.08 L493.5 421.18 L493.62 419.27 L493.74 417.37 L493.88 415.46 L494.04 413.56 L494.2 411.66 L494.39 409.75 L494.6 407.85 L494.85 405.94 L495.17 404.04 L495.54 402.13 L495.94 400.23 L496.36 398.33 L496.79 396.42 L497.25 394.52 L497.73 392.61 L498.22 390.71 L498.72 388.8 L499.21 386.9 L499.71 385 L500.22 383.09 L500.72 381.19 L501.21 379.28 L501.69 377.38 L502.17 375.47 L502.64 373.57 L503.09 371.67 L503.48 369.76 L503.85 367.86 L504.2 365.95 L504.53 364.05 L504.79 362.14 L505 360.24 L505.17 358.34 L505.33 356.43 L505.46 354.53 L505.54 352.62 L505.55 350.72 L505.54 348.81 L505.52 346.91 L505.5 345 L505.46 343.1 L505.41 341.2 L505.29 339.29 L505.11 337.39 L504.9 335.48 L504.69 333.58 L504.5 331.67 L504.29 329.77 L504.06 327.87 L503.82 325.96 L503.56 324.06 L503.29 322.15 L503.01 320.25 L502.7 318.34 L502.37 316.44 L502 314.54 L501.6 312.63 L501.15 310.73 L500.66 308.82 L500.14 306.92 L499.59 305.01 L499 303.11 L498.37 301.21 L497.69 299.3 L496.96 297.4 L496.17 295.49 L495.31 293.59 L494.39 291.68 L493.39 289.78 L492.34 287.87 L491.22 285.97 L490.05 284.07 Z" fill="#F08080" stroke="#8B0000" stroke-width="1.6" stroke-linejoin="round"/>
<line x1="483.25" y1="284.07" x2="483.25" y2="453.55" stroke="#000" stroke-width="2"/>
<rect x="477.75" y="326.13" width="11" height="61.6" fill="#000"/>
<line x1="472.75" y1="358.85" x2="493.75" y2="358.85" stroke="#000" stroke-width="1.7"/>
<circle cx="483.25" cy="356.41" r="3.9" fill="#fff"/>
<path d="M531.35 284.07 L529.93 286 L528.6 287.94 L527.36 289.87 L526.22 291.81 L525.18 293.74 L524.26 295.68 L523.45 297.61 L522.73 299.55 L522.09 301.48 L521.49 303.42 L520.91 305.35 L520.35 307.29 L519.8 309.23 L519.28 311.16 L518.81 313.1 L518.4 315.03 L518.03 316.97 L517.69 318.9 L517.38 320.84 L517.1 322.77 L516.86 324.71 L516.63 326.64 L516.43 328.58 L516.24 330.51 L516.09 332.45 L515.97 334.38 L515.86 336.32 L515.76 338.25 L515.68 340.19 L515.65 342.13 L515.65 344.06 L515.65 346 L515.65 347.93 L515.65 349.87 L515.65 351.8 L515.74 353.74 L515.93 355.67 L516.19 357.61 L516.48 359.54 L516.76 361.48 L517.09 363.41 L517.46 365.35 L517.87 367.28 L518.3 369.22 L518.74 371.16 L519.23 373.09 L519.75 375.03 L520.28 376.96 L520.8 378.9 L521.3 380.83 L521.82 382.77 L522.33 384.7 L522.83 386.64 L523.32 388.57 L523.8 390.51 L524.28 392.44 L524.75 394.38 L525.19 396.31 L525.62 398.25 L526.04 400.18 L526.46 402.12 L526.83 404.06 L527.15 405.99 L527.41 407.93 L527.62 409.86 L527.81 411.8 L527.98 413.73 L528.13 415.67 L528.28 417.6 L528.4 419.54 L528.52 421.47 L528.64 423.41 L528.77 425.34 L528.9 427.28 L529.03 429.21 L529.17 431.15 L529.34 433.09 L529.54 435.02 L529.8 436.96 L530.12 438.89 L530.47 440.83 L530.83 442.76 L531.17 444.7 L531.52 446.63 L531.89 448.57 L532.28 450.5 L532.7 452.44 L533.2 454.37 L533.75 456.31 L541.95 456.31 L542.5 454.37 L543 452.44 L543.42 450.5 L543.81 448.57 L544.18 446.63 L544.53 444.7 L544.87 442.76 L545.23 440.83 L545.58 438.89 L545.9 436.96 L546.16 435.02 L546.36 433.09 L546.53 431.15 L546.67 429.21 L546.8 427.28 L546.93 425.34 L547.06 423.41 L547.18 421.47 L547.3 419.54 L547.42 417.6 L547.57 415.67 L547.72 413.73 L547.89 411.8 L548.08 409.86 L548.29 407.93 L548.55 405.99 L548.87 404.06 L549.24 402.12 L549.66 400.18 L550.08 398.25 L550.51 396.31 L550.95 394.38 L551.42 392.44 L551.9 390.51 L552.38 388.57 L552.87 386.64 L553.37 384.7 L553.88 382.77 L554.4 380.83 L554.9 378.9 L555.42 376.96 L555.95 375.03 L556.47 373.09 L556.96 371.16 L557.4 369.22 L557.83 367.28 L558.24 365.35 L558.61 363.41 L558.94 361.48 L559.22 359.54 L559.51 357.61 L559.77 355.67 L559.96 353.74 L560.05 351.8 L560.05 349.87 L560.05 347.93 L560.05 346 L560.05 344.06 L560.05 342.13 L560.02 340.19 L559.94 338.25 L559.84 336.32 L559.73 334.38 L559.61 332.45 L559.46 330.51 L559.27 328.58 L559.07 326.64 L558.84 324.71 L558.6 322.77 L558.32 320.84 L558.01 318.9 L557.67 316.97 L557.3 315.03 L556.89 313.1 L556.42 311.16 L555.9 309.23 L555.35 307.29 L554.79 305.35 L554.21 303.42 L553.61 301.48 L552.97 299.55 L552.25 297.61 L551.44 295.68 L550.52 293.74 L549.48 291.81 L548.34 289.87 L547.1 287.94 L545.77 286 L544.35 284.07 Z" fill="#F5DEB3" stroke="#FF8C00" stroke-width="1.6" stroke-linejoin="round"/>
<line x1="537.85" y1="284.07" x2="537.85" y2="456.31" stroke="#000" stroke-width="2"/>
<rect x="532.35" y="326.13" width="11" height="60.03" fill="#000"/>
<line x1="527.35" y1="358.5" x2="548.35" y2="358.5" stroke="#000" stroke-width="1.7"/>
<circle cx="537.85" cy="354.67" r="3.9" fill="#fff"/>
<path d="M585.1 285.9 L583.79 287.79 L582.56 289.68 L581.41 291.57 L580.35 293.46 L579.38 295.35 L578.52 297.24 L577.72 299.13 L576.99 301.02 L576.32 302.91 L575.72 304.8 L575.19 306.69 L574.71 308.58 L574.28 310.47 L573.87 312.36 L573.5 314.25 L573.14 316.14 L572.8 318.03 L572.48 319.92 L572.19 321.81 L571.93 323.7 L571.71 325.59 L571.5 327.48 L571.31 329.37 L571.14 331.26 L571 333.15 L570.87 335.04 L570.75 336.93 L570.65 338.82 L570.56 340.71 L570.49 342.6 L570.43 344.49 L570.38 346.38 L570.33 348.27 L570.31 350.16 L570.3 352.05 L570.37 353.94 L570.51 355.83 L570.68 357.72 L570.88 359.61 L571.09 361.5 L571.34 363.39 L571.64 365.28 L571.98 367.17 L572.33 369.06 L572.71 370.95 L573.13 372.84 L573.59 374.73 L574.07 376.62 L574.55 378.51 L575.03 380.4 L575.51 382.29 L576.01 384.18 L576.51 386.07 L577.01 387.96 L577.52 389.85 L578.04 391.74 L578.56 393.63 L579.08 395.52 L579.58 397.41 L580.1 399.3 L580.64 401.19 L581.15 403.08 L581.6 404.97 L581.93 406.86 L582.17 408.75 L582.39 410.64 L582.57 412.53 L582.72 414.42 L582.82 416.31 L582.89 418.2 L582.94 420.09 L582.99 421.98 L583.05 423.87 L583.13 425.75 L583.24 427.64 L583.37 429.53 L583.52 431.42 L583.7 433.31 L583.92 435.2 L584.23 437.09 L584.6 438.98 L585.02 440.87 L585.45 442.76 L585.87 444.65 L586.31 446.54 L586.78 448.43 L587.27 450.32 L587.77 452.21 L588.3 454.1 L597.1 454.1 L597.63 452.21 L598.13 450.32 L598.62 448.43 L599.09 446.54 L599.53 444.65 L599.95 442.76 L600.38 440.87 L600.8 438.98 L601.17 437.09 L601.48 435.2 L601.7 433.31 L601.88 431.42 L602.03 429.53 L602.16 427.64 L602.27 425.75 L602.35 423.87 L602.41 421.98 L602.46 420.09 L602.51 418.2 L602.58 416.31 L602.68 414.42 L602.83 412.53 L603.01 410.64 L603.23 408.75 L603.47 406.86 L603.8 404.97 L604.25 403.08 L604.76 401.19 L605.3 399.3 L605.82 397.41 L606.32 395.52 L606.84 393.63 L607.36 391.74 L607.88 389.85 L608.39 387.96 L608.89 386.07 L609.39 384.18 L609.89 382.29 L610.37 380.4 L610.85 378.51 L611.33 376.62 L611.81 374.73 L612.27 372.84 L612.69 370.95 L613.07 369.06 L613.42 367.17 L613.76 365.28 L614.06 363.39 L614.31 361.5 L614.52 359.61 L614.72 357.72 L614.89 355.83 L615.03 353.94 L615.1 352.05 L615.09 350.16 L615.07 348.27 L615.02 346.38 L614.97 344.49 L614.91 342.6 L614.84 340.71 L614.75 338.82 L614.65 336.93 L614.53 335.04 L614.4 333.15 L614.26 331.26 L614.09 329.37 L613.9 327.48 L613.69 325.59 L613.47 323.7 L613.21 321.81 L612.92 319.92 L612.6 318.03 L612.26 316.14 L611.9 314.25 L611.53 312.36 L611.12 310.47 L610.69 308.58 L610.21 306.69 L609.68 304.8 L609.08 302.91 L608.41 301.02 L607.68 299.13 L606.88 297.24 L606.02 295.35 L605.05 293.46 L603.99 291.57 L602.84 289.68 L601.61 287.79 L600.3 285.9 Z" fill="#E0FFFF" stroke="#008080" stroke-width="1.6" stroke-linejoin="round"/>
<line x1="592.7" y1="285.9" x2="592.7" y2="454.1" stroke="#000" stroke-width="2"/>
<rect x="587.2" y="326.66" width="11" height="60.38" fill="#000"/>
<line x1="582.2" y1="358.85" x2="603.2" y2="358.85" stroke="#000" stroke-width="1.7"/>
<circle cx="592.7" cy="356.06" r="3.9" fill="#fff"/>
<path d="M640.3 284.07 L638.84 286 L637.46 287.94 L636.17 289.87 L634.98 291.81 L633.9 293.74 L632.93 295.68 L632.06 297.61 L631.26 299.55 L630.54 301.48 L629.9 303.42 L629.36 305.35 L628.89 307.29 L628.48 309.23 L628.11 311.16 L627.78 313.1 L627.46 315.03 L627.15 316.97 L626.85 318.9 L626.58 320.84 L626.33 322.77 L626.12 324.71 L625.92 326.64 L625.73 328.58 L625.57 330.51 L625.44 332.45 L625.34 334.38 L625.25 336.32 L625.18 338.25 L625.12 340.19 L625.1 342.13 L625.1 344.06 L625.1 346 L625.1 347.93 L625.1 349.87 L625.1 351.8 L625.16 353.74 L625.29 355.67 L625.47 357.61 L625.67 359.54 L625.89 361.48 L626.18 363.41 L626.53 365.35 L626.93 367.28 L627.35 369.22 L627.78 371.16 L628.27 373.09 L628.79 375.03 L629.32 376.96 L629.85 378.9 L630.35 380.83 L630.85 382.77 L631.36 384.7 L631.86 386.64 L632.37 388.57 L632.9 390.51 L633.45 392.44 L633.98 394.38 L634.5 396.31 L634.99 398.25 L635.49 400.18 L635.99 402.12 L636.43 404.06 L636.8 405.99 L637.06 407.93 L637.27 409.86 L637.46 411.8 L637.62 413.73 L637.78 415.67 L637.94 417.6 L638.08 419.54 L638.22 421.47 L638.37 423.41 L638.52 425.34 L638.69 427.28 L638.87 429.21 L639.05 431.15 L639.26 433.09 L639.5 435.02 L639.78 436.96 L640.09 438.89 L640.43 440.83 L640.78 442.76 L641.13 444.7 L641.48 446.63 L641.85 448.57 L642.24 450.5 L642.66 452.44 L643.11 454.37 L643.6 456.31 L651.4 456.31 L651.89 454.37 L652.34 452.44 L652.76 450.5 L653.15 448.57 L653.52 446.63 L653.87 444.7 L654.22 442.76 L654.57 440.83 L654.91 438.89 L655.22 436.96 L655.5 435.02 L655.74 433.09 L655.95 431.15 L656.13 429.21 L656.31 427.28 L656.48 425.34 L656.63 423.41 L656.78 421.47 L656.92 419.54 L657.06 417.6 L657.22 415.67 L657.38 413.73 L657.54 411.8 L657.73 409.86 L657.94 407.93 L658.2 405.99 L658.57 404.06 L659.01 402.12 L659.51 400.18 L660.01 398.25 L660.5 396.31 L661.02 394.38 L661.55 392.44 L662.1 390.51 L662.63 388.57 L663.14 386.64 L663.64 384.7 L664.15 382.77 L664.65 380.83 L665.15 378.9 L665.68 376.96 L666.21 375.03 L666.73 373.09 L667.22 371.16 L667.65 369.22 L668.07 367.28 L668.47 365.35 L668.82 363.41 L669.11 361.48 L669.33 359.54 L669.53 357.61 L669.71 355.67 L669.84 353.74 L669.9 351.8 L669.9 349.87 L669.9 347.93 L669.9 346 L669.9 344.06 L669.9 342.13 L669.88 340.19 L669.82 338.25 L669.75 336.32 L669.66 334.38 L669.56 332.45 L669.43 330.51 L669.27 328.58 L669.08 326.64 L668.88 324.71 L668.67 322.77 L668.42 320.84 L668.15 318.9 L667.85 316.97 L667.54 315.03 L667.22 313.1 L666.89 311.16 L666.52 309.23 L666.11 307.29 L665.64 305.35 L665.1 303.42 L664.46 301.48 L663.74 299.55 L662.94 297.61 L662.07 295.68 L661.1 293.74 L660.02 291.81 L658.83 289.87 L657.54 287.94 L656.16 286 L654.7 284.07 Z" fill="#D8BFD8" stroke="#8B008B" stroke-width="1.6" stroke-linejoin="round"/>
<line x1="647.5" y1="284.07" x2="647.5" y2="456.31" stroke="#000" stroke-width="2"/>
<rect x="642" y="325.44" width="11" height="61.42" fill="#000"/>
<line x1="637" y1="358.67" x2="658" y2="358.67" stroke="#000" stroke-width="1.7"/>
<circle cx="647.5" cy="355.54" r="3.9" fill="#fff"/>
<rect x="450.9" y="275.75" width="228.85" height="189.05" fill="none" stroke="#000" stroke-width="1.2"/>
<line x1="445.9" y1="457.9" x2="450.9" y2="457.9" stroke="#000" stroke-width="1.15"/>
<text x="441.3" y="461.15" font-size="8.2" text-anchor="end">0.0</text>
<line x1="445.9" y1="423.16" x2="450.9" y2="423.16" stroke="#000" stroke-width="1.15"/>
<text x="441.3" y="426.41" font-size="8.2" text-anchor="end">0.2</text>
<line x1="445.9" y1="388.42" x2="450.9" y2="388.42" stroke="#000" stroke-width="1.15"/>
<text x="441.3" y="391.67" font-size="8.2" text-anchor="end">0.4</text>
<line x1="445.9" y1="353.68" x2="450.9" y2="353.68" stroke="#000" stroke-width="1.15"/>
<text x="441.3" y="356.93" font-size="8.2" text-anchor="end">0.6</text>
<line x1="445.9" y1="318.94" x2="450.9" y2="318.94" stroke="#000" stroke-width="1.15"/>
<text x="441.3" y="322.19" font-size="8.2" text-anchor="end">0.8</text>
<line x1="445.9" y1="284.2" x2="450.9" y2="284.2" stroke="#000" stroke-width="1.15"/>
<text x="441.3" y="287.45" font-size="8.2" text-anchor="end">1.0</text>
<text x="421.5" y="370.27" font-size="8.2" text-anchor="middle" transform="rotate(-90 421.5 370.27)">AUPRC</text>
<line x1="483.25" y1="464.8" x2="483.25" y2="469.8" stroke="#000" stroke-width="1.15"/>
<text x="483.25" y="481.2" font-size="8.2" text-anchor="middle">Sigmoid(S)</text>
<line x1="537.85" y1="464.8" x2="537.85" y2="469.8" stroke="#000" stroke-width="1.15"/>
<text x="535.85" y="481.2" font-size="8.2" text-anchor="middle">Symbiotic</text>
<text x="535.85" y="490" font-size="8.2" text-anchor="middle">Sigmoid(SS)</text>
<line x1="592.7" y1="464.8" x2="592.7" y2="469.8" stroke="#000" stroke-width="1.15"/>
<text x="591.8" y="481.2" font-size="8.2" text-anchor="middle">Local</text>
<text x="590.6" y="490" font-size="8.2" text-anchor="middle">Softmax(LS)</text>
<line x1="647.5" y1="464.8" x2="647.5" y2="469.8" stroke="#000" stroke-width="1.15"/>
<text x="643.7" y="481.2" font-size="8.2" text-anchor="middle">Symbiotic Local</text>
<text x="645.2" y="490" font-size="8.2" text-anchor="middle">Softmax(SLS)</text>
<text x="0" y="524.8" font-size="11" text-anchor="start">d</text>
<text x="211.5" y="520.3" font-size="8.25" text-anchor="middle">Bland-Altman plots for sigmoid and symbiotic sigmoid</text>
<clipPath id="cd"><rect x="77.5" y="528.6" width="266.9" height="189.6"/></clipPath>
<g clip-path="url(#cd)">
<line x1="77.5" y1="597.3" x2="344.4" y2="597.3" stroke="#000" stroke-width="2"/>
<line x1="77.5" y1="558.58" x2="344.4" y2="558.58" stroke="#000" stroke-width="2" stroke-dasharray="7.4 3.2"/>
<line x1="77.5" y1="636.3" x2="344.4" y2="636.3" stroke="#000" stroke-width="2" stroke-dasharray="7.4 3.2"/>
<g fill="#ADD8E6" stroke="#4169E1" stroke-width="1.4"><circle cx="125.09" cy="537.44" r="3.3"/><circle cx="111.2" cy="551.34" r="3.3"/><circle cx="100.98" cy="559.72" r="3.3"/><circle cx="89.74" cy="583.22" r="3.3"/><circle cx="97.5" cy="577.09" r="3.3"/><circle cx="102.61" cy="575.46" r="3.3"/><circle cx="110.38" cy="573.41" r="3.3"/><circle cx="112.22" cy="573.01" r="3.3"/><circle cx="119.37" cy="571.98" r="3.3"/><circle cx="121.41" cy="574.03" r="3.3"/><circle cx="118.96" cy="580.57" r="3.3"/><circle cx="90.96" cy="596.1" r="3.3"/><circle cx="91.98" cy="598.14" r="3.3"/><circle cx="93.82" cy="601.62" r="3.3"/><circle cx="102.2" cy="594.67" r="3.3"/><circle cx="102" cy="612.04" r="3.3"/><circle cx="112.83" cy="594.87" r="3.3"/><circle cx="115.49" cy="596.51" r="3.3"/><circle cx="117.94" cy="591.81" r="3.3"/><circle cx="122.64" cy="588.74" r="3.3"/><circle cx="124.68" cy="594.47" r="3.3"/><circle cx="130.2" cy="592.01" r="3.3"/><circle cx="134.9" cy="592.83" r="3.3"/><circle cx="136.95" cy="596.92" r="3.3"/><circle cx="115.28" cy="603.66" r="3.3"/><circle cx="127.75" cy="614.09" r="3.3"/><circle cx="119.98" cy="627.98" r="3.3"/><circle cx="126.52" cy="636.97" r="3.3"/><circle cx="147.17" cy="594.47" r="3.3"/><circle cx="148.19" cy="602.64" r="3.3"/><circle cx="141.03" cy="609.79" r="3.3"/><circle cx="137.97" cy="614.49" r="3.3"/><circle cx="137.36" cy="617.97" r="3.3"/><circle cx="154.32" cy="557.68" r="3.3"/><circle cx="164.33" cy="563.81" r="3.3"/><circle cx="156.16" cy="568.51" r="3.3"/><circle cx="154.32" cy="575.05" r="3.3"/><circle cx="150.64" cy="580.77" r="3.3"/><circle cx="160.25" cy="578.52" r="3.3"/><circle cx="163.92" cy="592.42" r="3.3"/><circle cx="163.92" cy="599.98" r="3.3"/><circle cx="158.41" cy="613.27" r="3.3"/><circle cx="156.16" cy="619.19" r="3.3"/><circle cx="150.64" cy="643.51" r="3.3"/><circle cx="154.73" cy="662.73" r="3.3"/><circle cx="163.31" cy="681.32" r="3.3"/><circle cx="172.51" cy="590.38" r="3.3"/><circle cx="174.14" cy="595.49" r="3.3"/><circle cx="177.21" cy="596.51" r="3.3"/><circle cx="178.23" cy="592.42" r="3.3"/><circle cx="176.8" cy="605.71" r="3.3"/><circle cx="178.23" cy="609.79" r="3.3"/><circle cx="181.7" cy="610.2" r="3.3"/><circle cx="176.8" cy="616.54" r="3.3"/><circle cx="183.95" cy="587.31" r="3.3"/><circle cx="185.38" cy="588.33" r="3.3"/><circle cx="188.45" cy="586.29" r="3.3"/><circle cx="183.34" cy="598.55" r="3.3"/><circle cx="186" cy="599.57" r="3.3"/><circle cx="187.84" cy="596.51" r="3.3"/><circle cx="186.41" cy="604.68" r="3.3"/><circle cx="189.47" cy="603.25" r="3.3"/><circle cx="192.54" cy="601.62" r="3.3"/><circle cx="193.56" cy="589.36" r="3.3"/><circle cx="194.58" cy="594.47" r="3.3"/><circle cx="196.01" cy="581.18" r="3.3"/><circle cx="196.01" cy="585.88" r="3.3"/><circle cx="198.67" cy="589.36" r="3.3"/><circle cx="202.14" cy="585.88" r="3.3"/><circle cx="202.76" cy="571.98" r="3.3"/><circle cx="204.8" cy="588.33" r="3.3"/><circle cx="204.19" cy="596.51" r="3.3"/><circle cx="206.84" cy="597.53" r="3.3"/><circle cx="209.5" cy="578.12" r="3.3"/><circle cx="208.89" cy="582.2" r="3.3"/><circle cx="212.36" cy="567.9" r="3.3"/><circle cx="213.59" cy="591.4" r="3.3"/><circle cx="212.97" cy="600.6" r="3.3"/><circle cx="207.86" cy="608.77" r="3.3"/><circle cx="201.73" cy="610.41" r="3.3"/><circle cx="196.01" cy="613.88" r="3.3"/><circle cx="189.06" cy="617.97" r="3.3"/><circle cx="187.84" cy="623.49" r="3.3"/><circle cx="201.73" cy="618.38" r="3.3"/><circle cx="212.36" cy="617.97" r="3.3"/><circle cx="190.49" cy="635.95" r="3.3"/><circle cx="194.58" cy="633.7" r="3.3"/><circle cx="212.36" cy="634.32" r="3.3"/><circle cx="198.67" cy="651.28" r="3.3"/><circle cx="204.8" cy="677.03" r="3.3"/><circle cx="245.2" cy="542.55" r="3.3"/><circle cx="264.61" cy="548.89" r="3.3"/><circle cx="227.01" cy="552.57" r="3.3"/><circle cx="224.96" cy="558.29" r="3.3"/><circle cx="268.29" cy="558.7" r="3.3"/><circle cx="278.51" cy="563.81" r="3.3"/><circle cx="213.11" cy="567.9" r="3.3"/><circle cx="255.01" cy="569.94" r="3.3"/><circle cx="283.21" cy="571.78" r="3.3"/><circle cx="243.77" cy="575.05" r="3.3"/><circle cx="223.94" cy="577.5" r="3.3"/><circle cx="209.63" cy="578.73" r="3.3"/><circle cx="214.13" cy="580.16" r="3.3"/><circle cx="217.81" cy="582.2" r="3.3"/><circle cx="250.92" cy="580.16" r="3.3"/><circle cx="263.79" cy="578.12" r="3.3"/><circle cx="263.18" cy="582.82" r="3.3"/><circle cx="281.57" cy="580.16" r="3.3"/><circle cx="282.19" cy="581.59" r="3.3"/><circle cx="231.5" cy="584.25" r="3.3"/><circle cx="238.25" cy="585.68" r="3.3"/><circle cx="248.47" cy="584.25" r="3.3"/><circle cx="252.55" cy="585.27" r="3.3"/><circle cx="271.36" cy="585.68" r="3.3"/><circle cx="278.51" cy="586.29" r="3.3"/><circle cx="289.34" cy="585.88" r="3.3"/><circle cx="297.31" cy="585.68" r="3.3"/><circle cx="317.34" cy="585.27" r="3.3"/><circle cx="215.15" cy="590.38" r="3.3"/><circle cx="224.35" cy="591.4" r="3.3"/><circle cx="228.44" cy="592.42" r="3.3"/><circle cx="235.59" cy="591.4" r="3.3"/><circle cx="240.7" cy="592.42" r="3.3"/><circle cx="250.51" cy="593.44" r="3.3"/><circle cx="259.09" cy="591.4" r="3.3"/><circle cx="264.82" cy="593.44" r="3.3"/><circle cx="272.99" cy="592.42" r="3.3"/><circle cx="283.62" cy="590.38" r="3.3"/><circle cx="296.29" cy="592.42" r="3.3"/><circle cx="299.97" cy="592.01" r="3.3"/><circle cx="310.19" cy="591.4" r="3.3"/><circle cx="324.08" cy="590.38" r="3.3"/><circle cx="243.77" cy="596.51" r="3.3"/><circle cx="256.03" cy="597.53" r="3.3"/><circle cx="267.27" cy="596.51" r="3.3"/><circle cx="279.12" cy="597.12" r="3.3"/><circle cx="286.68" cy="598.55" r="3.3"/><circle cx="292.82" cy="599.57" r="3.3"/><circle cx="298.54" cy="597.12" r="3.3"/><circle cx="306.71" cy="595.49" r="3.3"/><circle cx="311.21" cy="596.92" r="3.3"/><circle cx="306.71" cy="600.6" r="3.3"/><circle cx="314.27" cy="600.6" r="3.3"/><circle cx="317.34" cy="598.55" r="3.3"/><circle cx="324.08" cy="598.55" r="3.3"/><circle cx="320" cy="595.49" r="3.3"/><circle cx="324.08" cy="594.87" r="3.3"/><circle cx="332.67" cy="595.49" r="3.3"/><circle cx="328.58" cy="594.47" r="3.3"/><circle cx="213.11" cy="601.21" r="3.3"/><circle cx="220.26" cy="599.57" r="3.3"/><circle cx="216.17" cy="604.68" r="3.3"/><circle cx="221.28" cy="605.71" r="3.3"/><circle cx="209.02" cy="608.77" r="3.3"/><circle cx="228.44" cy="604.68" r="3.3"/><circle cx="229.46" cy="606.73" r="3.3"/><circle cx="237.23" cy="606.73" r="3.3"/><circle cx="240.7" cy="607.75" r="3.3"/><circle cx="243.77" cy="608.77" r="3.3"/><circle cx="247.44" cy="613.47" r="3.3"/><circle cx="232.12" cy="611.84" r="3.3"/><circle cx="238.66" cy="615.92" r="3.3"/><circle cx="260.12" cy="602.64" r="3.3"/><circle cx="260.12" cy="606.73" r="3.3"/><circle cx="267.88" cy="602.03" r="3.3"/><circle cx="270.33" cy="605.71" r="3.3"/><circle cx="274.42" cy="605.71" r="3.3"/><circle cx="279.94" cy="605.3" r="3.3"/><circle cx="299.97" cy="607.34" r="3.3"/><circle cx="299.97" cy="610.2" r="3.3"/><circle cx="213.11" cy="617.56" r="3.3"/><circle cx="245.2" cy="624.71" r="3.3"/><circle cx="245.81" cy="631.25" r="3.3"/><circle cx="268.7" cy="627.16" r="3.3"/><circle cx="298.95" cy="626.55" r="3.3"/><circle cx="213.11" cy="633.91" r="3.3"/><circle cx="219.24" cy="644.54" r="3.3"/><circle cx="255.01" cy="642.08" r="3.3"/><circle cx="244.79" cy="709.53" r="3.3"/><circle cx="211.07" cy="594.47" r="3.3"/><circle cx="218.22" cy="595.49" r="3.3"/><circle cx="222.31" cy="596.51" r="3.3"/><circle cx="226.39" cy="599.57" r="3.3"/><circle cx="232.52" cy="597.53" r="3.3"/><circle cx="233.55" cy="602.64" r="3.3"/><circle cx="237.63" cy="596.51" r="3.3"/><circle cx="246.83" cy="598.55" r="3.3"/><circle cx="248.87" cy="601.62" r="3.3"/><circle cx="251.94" cy="598.55" r="3.3"/><circle cx="253.98" cy="594.47" r="3.3"/><circle cx="258.07" cy="596.51" r="3.3"/><circle cx="262.16" cy="598.55" r="3.3"/><circle cx="263.18" cy="594.47" r="3.3"/><circle cx="269.31" cy="598.55" r="3.3"/><circle cx="271.36" cy="595.49" r="3.3"/><circle cx="275.44" cy="597.53" r="3.3"/><circle cx="276.47" cy="600.6" r="3.3"/><circle cx="281.57" cy="595.49" r="3.3"/><circle cx="288.73" cy="595.49" r="3.3"/><circle cx="290.77" cy="593.44" r="3.3"/><circle cx="293.84" cy="596.51" r="3.3"/><circle cx="302.01" cy="596.51" r="3.3"/><circle cx="304.06" cy="598.55" r="3.3"/><circle cx="315.3" cy="596.51" r="3.3"/><circle cx="224.35" cy="607.75" r="3.3"/><circle cx="234.57" cy="609.79" r="3.3"/><circle cx="212.09" cy="587.31" r="3.3"/><circle cx="220.26" cy="587.31" r="3.3"/><circle cx="244.79" cy="589.36" r="3.3"/><circle cx="257.05" cy="587.31" r="3.3"/><circle cx="267.27" cy="589.36" r="3.3"/><circle cx="275.44" cy="589.36" r="3.3"/><circle cx="286.68" cy="591.4" r="3.3"/></g>
</g>
<rect x="77.5" y="528.6" width="266.9" height="189.6" fill="none" stroke="#000" stroke-width="1.2"/>
<line x1="72.5" y1="537.7" x2="77.5" y2="537.7" stroke="#000" stroke-width="1.15"/>
<text x="67.9" y="540.95" font-size="8.2" text-anchor="end">0.10</text>
<line x1="72.5" y1="566.7" x2="77.5" y2="566.7" stroke="#000" stroke-width="1.15"/>
<text x="67.9" y="569.95" font-size="8.2" text-anchor="end">0.05</text>
<line x1="72.5" y1="595.7" x2="77.5" y2="595.7" stroke="#000" stroke-width="1.15"/>
<text x="67.9" y="598.95" font-size="8.2" text-anchor="end">0.00</text>
<line x1="72.5" y1="624.7" x2="77.5" y2="624.7" stroke="#000" stroke-width="1.15"/>
<text x="67.9" y="627.95" font-size="8.2" text-anchor="end">−0.05</text>
<line x1="72.5" y1="653.7" x2="77.5" y2="653.7" stroke="#000" stroke-width="1.15"/>
<text x="67.9" y="656.95" font-size="8.2" text-anchor="end">−0.10</text>
<line x1="72.5" y1="682.7" x2="77.5" y2="682.7" stroke="#000" stroke-width="1.15"/>
<text x="67.9" y="685.95" font-size="8.2" text-anchor="end">−0.15</text>
<line x1="72.5" y1="711.7" x2="77.5" y2="711.7" stroke="#000" stroke-width="1.15"/>
<text x="67.9" y="714.95" font-size="8.2" text-anchor="end">−0.20</text>
<line x1="84.2" y1="718.2" x2="84.2" y2="723.2" stroke="#000" stroke-width="1.15"/>
<text x="84.2" y="734.3" font-size="8.2" text-anchor="middle">0.0</text>
<line x1="133.82" y1="718.2" x2="133.82" y2="723.2" stroke="#000" stroke-width="1.15"/>
<text x="133.82" y="734.3" font-size="8.2" text-anchor="middle">0.2</text>
<line x1="183.44" y1="718.2" x2="183.44" y2="723.2" stroke="#000" stroke-width="1.15"/>
<text x="183.44" y="734.3" font-size="8.2" text-anchor="middle">0.4</text>
<line x1="233.06" y1="718.2" x2="233.06" y2="723.2" stroke="#000" stroke-width="1.15"/>
<text x="233.06" y="734.3" font-size="8.2" text-anchor="middle">0.6</text>
<line x1="282.68" y1="718.2" x2="282.68" y2="723.2" stroke="#000" stroke-width="1.15"/>
<text x="282.68" y="734.3" font-size="8.2" text-anchor="middle">0.8</text>
<line x1="332.3" y1="718.2" x2="332.3" y2="723.2" stroke="#000" stroke-width="1.15"/>
<text x="332.3" y="734.3" font-size="8.2" text-anchor="middle">1.0</text>
<text x="211" y="748" font-size="8.2" text-anchor="middle">Mean AUPRC</text>
<text x="36.1" y="623.9" font-size="8.2" text-anchor="middle" transform="rotate(-90 36.1 623.9)">Difference</text>
<text x="337" y="553" font-size="8.2" text-anchor="end">+1.96 s.d.</text>
<text x="320" y="570" font-size="8.2" text-anchor="middle">0.064</text>
<text x="336.5" y="631" font-size="8.2" text-anchor="end">-1.96 s.d.</text>
<text x="320" y="648.1" font-size="8.2" text-anchor="middle">-0.070</text>
<text x="551.5" y="520.5" font-size="8.25" text-anchor="middle">Bland-Altman plots for local softmax and symbiotic local softmax</text>
<clipPath id="ce"><rect x="417.6" y="528.6" width="266.9" height="189.5"/></clipPath>
<g clip-path="url(#ce)">
<line x1="417.6" y1="611" x2="684.5" y2="611" stroke="#000" stroke-width="2"/>
<line x1="417.6" y1="575.5" x2="684.5" y2="575.5" stroke="#000" stroke-width="2" stroke-dasharray="7.4 3.2"/>
<line x1="417.6" y1="646.8" x2="684.5" y2="646.8" stroke="#000" stroke-width="2" stroke-dasharray="7.4 3.2"/>
<g fill="#ADD8E6" stroke="#4169E1" stroke-width="1.4"><circle cx="542.76" cy="537.44" r="3.3"/><circle cx="552.97" cy="550.52" r="3.3"/><circle cx="502.49" cy="554.82" r="3.3"/><circle cx="531.11" cy="556.04" r="3.3"/><circle cx="508.62" cy="570.96" r="3.3"/><circle cx="494.73" cy="581.39" r="3.3"/><circle cx="447.72" cy="587.93" r="3.3"/><circle cx="517.21" cy="586.09" r="3.3"/><circle cx="524.77" cy="588.54" r="3.3"/><circle cx="533.56" cy="584.66" r="3.3"/><circle cx="540.71" cy="590.38" r="3.3"/><circle cx="543.16" cy="589.36" r="3.3"/><circle cx="548.89" cy="586.7" r="3.3"/><circle cx="549.91" cy="590.38" r="3.3"/><circle cx="478.38" cy="592.83" r="3.3"/><circle cx="503.92" cy="594.87" r="3.3"/><circle cx="508.01" cy="593.44" r="3.3"/><circle cx="530.49" cy="595.49" r="3.3"/><circle cx="429.33" cy="603.05" r="3.3"/><circle cx="433.82" cy="603.66" r="3.3"/><circle cx="440.57" cy="602.03" r="3.3"/><circle cx="443.02" cy="600.6" r="3.3"/><circle cx="443.02" cy="606.73" r="3.3"/><circle cx="433.82" cy="612.04" r="3.3"/><circle cx="449.77" cy="613.88" r="3.3"/><circle cx="452.83" cy="604.68" r="3.3"/><circle cx="452.42" cy="606.11" r="3.3"/><circle cx="455.9" cy="599.17" r="3.3"/><circle cx="458.96" cy="598.76" r="3.3"/><circle cx="462.44" cy="604.68" r="3.3"/><circle cx="463.05" cy="608.77" r="3.3"/><circle cx="464.07" cy="612.86" r="3.3"/><circle cx="468.16" cy="613.47" r="3.3"/><circle cx="470.2" cy="605.71" r="3.3"/><circle cx="473.88" cy="605.3" r="3.3"/><circle cx="476.74" cy="603.46" r="3.3"/><circle cx="488.19" cy="599.17" r="3.3"/><circle cx="489.62" cy="601.62" r="3.3"/><circle cx="490.64" cy="608.36" r="3.3"/><circle cx="493.3" cy="614.29" r="3.3"/><circle cx="501.27" cy="609.38" r="3.3"/><circle cx="504.95" cy="603.25" r="3.3"/><circle cx="508.01" cy="607.75" r="3.3"/><circle cx="508.62" cy="612.86" r="3.3"/><circle cx="513.53" cy="605.71" r="3.3"/><circle cx="514.76" cy="599.17" r="3.3"/><circle cx="522.32" cy="606.32" r="3.3"/><circle cx="525.38" cy="601.62" r="3.3"/><circle cx="526" cy="606.73" r="3.3"/><circle cx="530.08" cy="611.84" r="3.3"/><circle cx="531.51" cy="604.68" r="3.3"/><circle cx="532.54" cy="613.88" r="3.3"/><circle cx="537.65" cy="599.17" r="3.3"/><circle cx="543.16" cy="598.55" r="3.3"/><circle cx="548.89" cy="596.51" r="3.3"/><circle cx="549.91" cy="604.68" r="3.3"/><circle cx="542.35" cy="610.82" r="3.3"/><circle cx="537.65" cy="614.29" r="3.3"/><circle cx="541.73" cy="616.95" r="3.3"/><circle cx="528.45" cy="618.99" r="3.3"/><circle cx="539.69" cy="621.44" r="3.3"/><circle cx="542.76" cy="624.1" r="3.3"/><circle cx="549.91" cy="621.44" r="3.3"/><circle cx="517.21" cy="621.03" r="3.3"/><circle cx="517.21" cy="624.71" r="3.3"/><circle cx="522.93" cy="626.14" r="3.3"/><circle cx="521.7" cy="630.84" r="3.3"/><circle cx="465.71" cy="621.03" r="3.3"/><circle cx="465.09" cy="624.51" r="3.3"/><circle cx="481.03" cy="624.1" r="3.3"/><circle cx="496.36" cy="626.96" r="3.3"/><circle cx="469.18" cy="633.7" r="3.3"/><circle cx="444.04" cy="637.59" r="3.3"/><circle cx="465.09" cy="640.45" r="3.3"/><circle cx="478.99" cy="637.79" r="3.3"/><circle cx="500.45" cy="637.38" r="3.3"/><circle cx="510.46" cy="639.63" r="3.3"/><circle cx="545.41" cy="632.68" r="3.3"/><circle cx="550.52" cy="632.07" r="3.3"/><circle cx="541.73" cy="642.08" r="3.3"/><circle cx="543.78" cy="645.97" r="3.3"/><circle cx="539.28" cy="652.71" r="3.3"/><circle cx="519.66" cy="649.65" r="3.3"/><circle cx="520.89" cy="654.35" r="3.3"/><circle cx="519.66" cy="657.41" r="3.3"/><circle cx="442.2" cy="657.82" r="3.3"/><circle cx="481.44" cy="663.13" r="3.3"/><circle cx="497.79" cy="679.69" r="3.3"/><circle cx="488.6" cy="709.53" r="3.3"/><circle cx="595.48" cy="569.94" r="3.3"/><circle cx="587.31" cy="580.77" r="3.3"/><circle cx="604.27" cy="583.22" r="3.3"/><circle cx="605.29" cy="586.9" r="3.3"/><circle cx="601.82" cy="589.76" r="3.3"/><circle cx="618.57" cy="585.27" r="3.3"/><circle cx="548.68" cy="586.29" r="3.3"/><circle cx="549.5" cy="590.38" r="3.3"/><circle cx="564.82" cy="587.72" r="3.3"/><circle cx="566.87" cy="591.4" r="3.3"/><circle cx="571.98" cy="591.81" r="3.3"/><circle cx="590.37" cy="594.87" r="3.3"/><circle cx="659.04" cy="592.42" r="3.3"/><circle cx="625.73" cy="597.53" r="3.3"/><circle cx="618.98" cy="599.17" r="3.3"/><circle cx="647.19" cy="598.96" r="3.3"/><circle cx="547.04" cy="596.51" r="3.3"/><circle cx="554.2" cy="600.6" r="3.3"/><circle cx="560.33" cy="599.98" r="3.3"/><circle cx="567.89" cy="599.57" r="3.3"/><circle cx="578.31" cy="599.17" r="3.3"/><circle cx="610.81" cy="602.03" r="3.3"/><circle cx="615.1" cy="603.66" r="3.3"/><circle cx="636.97" cy="602.64" r="3.3"/><circle cx="632.47" cy="604.68" r="3.3"/><circle cx="549.5" cy="604.68" r="3.3"/><circle cx="556.24" cy="607.34" r="3.3"/><circle cx="566.05" cy="606.11" r="3.3"/><circle cx="575.25" cy="605.3" r="3.3"/><circle cx="581.79" cy="606.73" r="3.3"/><circle cx="592.41" cy="607.75" r="3.3"/><circle cx="600.18" cy="605.71" r="3.3"/><circle cx="605.29" cy="606.32" r="3.3"/><circle cx="607.95" cy="607.34" r="3.3"/><circle cx="623.68" cy="606.11" r="3.3"/><circle cx="632.88" cy="607.34" r="3.3"/><circle cx="640.03" cy="605.71" r="3.3"/><circle cx="645.14" cy="606.73" r="3.3"/><circle cx="651.27" cy="606.73" r="3.3"/><circle cx="655.36" cy="607.75" r="3.3"/><circle cx="659.04" cy="607.34" r="3.3"/><circle cx="669.26" cy="608.36" r="3.3"/><circle cx="668.65" cy="610.82" r="3.3"/><circle cx="551.13" cy="610.82" r="3.3"/><circle cx="559.31" cy="612.86" r="3.3"/><circle cx="569.52" cy="611.84" r="3.3"/><circle cx="574.63" cy="613.88" r="3.3"/><circle cx="583.22" cy="613.88" r="3.3"/><circle cx="591.6" cy="613.88" r="3.3"/><circle cx="598.14" cy="612.86" r="3.3"/><circle cx="602.84" cy="610.41" r="3.3"/><circle cx="608.36" cy="612.86" r="3.3"/><circle cx="613.47" cy="611.43" r="3.3"/><circle cx="617.96" cy="609.79" r="3.3"/><circle cx="622.66" cy="614.9" r="3.3"/><circle cx="627.77" cy="609.79" r="3.3"/><circle cx="635.95" cy="608.77" r="3.3"/><circle cx="643.71" cy="609.79" r="3.3"/><circle cx="641.06" cy="615.92" r="3.3"/><circle cx="649.23" cy="611.84" r="3.3"/><circle cx="654.34" cy="612.86" r="3.3"/><circle cx="659.45" cy="613.47" r="3.3"/><circle cx="664.56" cy="613.88" r="3.3"/><circle cx="672.12" cy="617.97" r="3.3"/><circle cx="548.07" cy="617.97" r="3.3"/><circle cx="552.15" cy="618.99" r="3.3"/><circle cx="556.85" cy="620.42" r="3.3"/><circle cx="562.37" cy="622.06" r="3.3"/><circle cx="566.05" cy="617.97" r="3.3"/><circle cx="570.55" cy="618.99" r="3.3"/><circle cx="571.57" cy="621.03" r="3.3"/><circle cx="572.59" cy="627.57" r="3.3"/><circle cx="585.26" cy="622.46" r="3.3"/><circle cx="587.92" cy="621.03" r="3.3"/><circle cx="593.03" cy="620.01" r="3.3"/><circle cx="597.12" cy="620.62" r="3.3"/><circle cx="601.82" cy="621.44" r="3.3"/><circle cx="606.31" cy="615.92" r="3.3"/><circle cx="621.64" cy="618.99" r="3.3"/><circle cx="627.16" cy="620.62" r="3.3"/><circle cx="650.25" cy="623.69" r="3.3"/><circle cx="550.11" cy="631.87" r="3.3"/><circle cx="546.02" cy="632.68" r="3.3"/><circle cx="592.62" cy="633.3" r="3.3"/><circle cx="610.81" cy="631.25" r="3.3"/><circle cx="617.55" cy="633.3" r="3.3"/><circle cx="625.11" cy="631.25" r="3.3"/><circle cx="610.81" cy="636.77" r="3.3"/><circle cx="616.53" cy="636.36" r="3.3"/><circle cx="557.67" cy="640.65" r="3.3"/><circle cx="576.27" cy="641.47" r="3.3"/><circle cx="604.27" cy="643.92" r="3.3"/><circle cx="601.82" cy="645.15" r="3.3"/><circle cx="545" cy="645.56" r="3.3"/><circle cx="564.42" cy="657" r="3.3"/><circle cx="553.17" cy="605.71" r="3.3"/><circle cx="557.26" cy="611.84" r="3.3"/><circle cx="563.39" cy="609.79" r="3.3"/><circle cx="564.42" cy="614.9" r="3.3"/><circle cx="577.7" cy="609.79" r="3.3"/><circle cx="579.74" cy="615.92" r="3.3"/><circle cx="585.87" cy="609.79" r="3.3"/><circle cx="588.94" cy="616.95" r="3.3"/><circle cx="595.07" cy="610.82" r="3.3"/><circle cx="596.09" cy="615.92" r="3.3"/><circle cx="601.2" cy="615.92" r="3.3"/><circle cx="610.4" cy="608.77" r="3.3"/><circle cx="612.44" cy="614.9" r="3.3"/><circle cx="615.51" cy="607.75" r="3.3"/><circle cx="618.57" cy="613.88" r="3.3"/><circle cx="628.79" cy="606.73" r="3.3"/><circle cx="630.84" cy="610.82" r="3.3"/><circle cx="637.99" cy="610.82" r="3.3"/><circle cx="647.19" cy="608.77" r="3.3"/><circle cx="662.51" cy="609.79" r="3.3"/><circle cx="547.04" cy="607.75" r="3.3"/><circle cx="555.22" cy="615.92" r="3.3"/><circle cx="568.5" cy="604.68" r="3.3"/><circle cx="573.61" cy="608.77" r="3.3"/><circle cx="561.35" cy="604.68" r="3.3"/><circle cx="549.09" cy="613.88" r="3.3"/><circle cx="616.53" cy="600.6" r="3.3"/></g>
</g>
<rect x="417.6" y="528.6" width="266.9" height="189.5" fill="none" stroke="#000" stroke-width="1.2"/>
<line x1="412.6" y1="548.1" x2="417.6" y2="548.1" stroke="#000" stroke-width="1.15"/>
<text x="408" y="551.35" font-size="8.2" text-anchor="end">0.10</text>
<line x1="412.6" y1="579.45" x2="417.6" y2="579.45" stroke="#000" stroke-width="1.15"/>
<text x="408" y="582.7" font-size="8.2" text-anchor="end">0.05</text>
<line x1="412.6" y1="610.8" x2="417.6" y2="610.8" stroke="#000" stroke-width="1.15"/>
<text x="408" y="614.05" font-size="8.2" text-anchor="end">0.00</text>
<line x1="412.6" y1="642.15" x2="417.6" y2="642.15" stroke="#000" stroke-width="1.15"/>
<text x="408" y="645.4" font-size="8.2" text-anchor="end">−0.05</text>
<line x1="412.6" y1="673.5" x2="417.6" y2="673.5" stroke="#000" stroke-width="1.15"/>
<text x="408" y="676.75" font-size="8.2" text-anchor="end">−0.10</text>
<line x1="412.6" y1="704.85" x2="417.6" y2="704.85" stroke="#000" stroke-width="1.15"/>
<text x="408" y="708.1" font-size="8.2" text-anchor="end">−0.15</text>
<line x1="425.35" y1="718.1" x2="425.35" y2="723.1" stroke="#000" stroke-width="1.15"/>
<text x="425.35" y="734.3" font-size="8.2" text-anchor="middle">0.0</text>
<line x1="475" y1="718.1" x2="475" y2="723.1" stroke="#000" stroke-width="1.15"/>
<text x="475" y="734.3" font-size="8.2" text-anchor="middle">0.2</text>
<line x1="524.65" y1="718.1" x2="524.65" y2="723.1" stroke="#000" stroke-width="1.15"/>
<text x="524.65" y="734.3" font-size="8.2" text-anchor="middle">0.4</text>
<line x1="574.3" y1="718.1" x2="574.3" y2="723.1" stroke="#000" stroke-width="1.15"/>
<text x="574.3" y="734.3" font-size="8.2" text-anchor="middle">0.6</text>
<line x1="623.95" y1="718.1" x2="623.95" y2="723.1" stroke="#000" stroke-width="1.15"/>
<text x="623.95" y="734.3" font-size="8.2" text-anchor="middle">0.8</text>
<line x1="673.6" y1="718.1" x2="673.6" y2="723.1" stroke="#000" stroke-width="1.15"/>
<text x="673.6" y="734.3" font-size="8.2" text-anchor="middle">1.0</text>
<text x="551" y="748" font-size="8.2" text-anchor="middle">Mean AUPRC</text>
<text x="376.1" y="623.85" font-size="8.2" text-anchor="middle" transform="rotate(-90 376.1 623.85)">Difference</text>
<text x="679.2" y="569.1" font-size="8.2" text-anchor="end">+1.96 s.d.</text>
<text x="661" y="587.8" font-size="8.2" text-anchor="middle">0.056</text>
<text x="678.6" y="641.3" font-size="8.2" text-anchor="end">-1.96 s.d.</text>
<text x="661" y="659.9" font-size="8.2" text-anchor="middle">-0.058</text>
<text x="0" y="776.4" font-size="11" text-anchor="start">e</text>
<text x="255.6" y="776.5" font-size="8.25" text-anchor="middle">Different 12 Losses and their ensemble performance</text>
<polygon points="82.5,791.98 83.87,793.84 85.24,794.76 86.61,795.43 87.98,795.8 89.36,796.42 90.73,797.2 92.1,797.89 93.47,799.34 94.84,797.33 96.21,799.81 97.58,801.24 98.95,801.6 100.32,801.62 101.69,803.19 103.06,803.59 104.44,805.96 105.81,805.37 107.18,805.69 108.55,805.53 109.92,807.43 111.29,806.91 112.66,806.53 114.03,808.08 115.4,807.79 116.78,808.13 118.15,810.67 119.52,810.02 120.89,811.75 122.26,812.12 123.63,811.45 125,813.03 126.37,811.93 127.74,813.73 129.11,812.31 130.49,813.1 131.86,812.98 133.23,815.83 134.6,816.74 135.97,816.38 137.34,817.46 138.71,817.82 140.08,818.44 141.45,818.4 142.82,819.07 144.19,817.33 145.57,820.84 146.94,824.45 148.31,822.16 149.68,820.6 151.05,825.25 152.42,823.87 153.79,818.38 155.16,824.32 156.53,824.64 157.91,824.34 159.28,822.76 160.65,827.82 162.02,827.48 163.39,829.95 164.76,827.91 166.13,826.32 167.5,829.54 168.87,832.27 170.24,827.82 171.62,825.94 172.99,828.67 174.36,822.6 175.73,826.51 177.1,828.55 178.47,833.31 179.84,830.42 181.21,832.08 182.58,834.98 183.95,835.33 185.32,816.74 186.7,836.5 188.07,838.1 189.44,836.92 190.81,834.53 192.18,838.06 193.55,839.5 194.92,839.52 196.29,833.09 197.66,838.61 199.03,837.87 200.41,831.05 201.78,840.51 203.15,843.65 204.52,846.78 205.89,844.33 207.26,839.56 208.63,842.48 210,837.18 211.37,839.31 212.75,841.18 214.12,846.37 215.49,839.22 216.86,843.55 218.23,842.13 219.6,838.2 220.97,841.69 222.34,844.08 223.71,842.17 225.08,846.97 226.46,846.29 227.83,850.22 229.2,849.52 230.57,852.81 231.94,837.18 233.31,851.47 234.68,853.05 236.05,854.63 237.42,853.87 238.79,851.62 240.16,853.68 241.54,854.44 242.91,854.11 244.28,854.32 245.65,858.67 247.02,855.53 248.39,855.4 249.76,859.01 251.13,859.01 252.5,858.29 253.88,860.6 255.25,860.19 256.62,860.02 257.99,861.55 259.36,860.32 260.73,860.17 262.1,856.13 263.47,857.57 264.84,862.08 266.21,860.53 267.59,856.64 268.96,857.62 270.33,856.73 271.7,861.38 273.07,864.78 274.44,841.27 275.81,858.11 277.18,862.78 278.55,857.29 279.92,862.94 281.29,865.42 282.67,862.27 284.04,867.3 285.41,868.12 286.78,862.73 288.15,864.54 289.52,861.71 290.89,869.15 292.26,869.82 293.63,869.31 295,864.77 296.38,865.15 297.75,868.48 299.12,867.1 300.49,861.71 301.86,869 303.23,871.52 304.6,871.24 305.97,871.94 307.34,875.28 308.72,876.55 310.09,868.13 311.46,874.97 312.83,873.96 314.2,855.57 315.57,874.87 316.94,876.38 318.31,876.35 319.68,871.92 321.05,876.83 322.43,883.1 323.8,885.65 325.17,880.9 326.54,881.65 327.91,883.58 329.28,863.75 330.65,860.68 332.02,881.94 333.39,884.44 334.76,884.28 336.13,882.9 337.51,885.51 338.88,888.9 340.25,888.84 341.62,890.88 342.99,891.28 344.36,884.05 345.73,893.59 347.1,883.16 348.47,885.78 349.85,895.52 351.22,886.08 352.59,890.5 353.96,897.83 355.33,892.36 356.7,896.39 358.07,900.85 359.44,899.15 360.81,900.47 362.18,903.01 363.56,901.23 364.93,904.62 366.3,904.63 367.67,895.43 369.04,903.23 370.41,902.78 371.78,906.74 373.15,909.73 374.52,910.55 375.89,911.71 377.26,912.48 378.64,912.05 380.01,912.71 381.38,905.65 382.75,913.45 384.12,914.04 385.49,916.33 386.86,897.47 388.23,914.58 389.6,924.66 390.98,925.92 392.35,922 393.72,929.49 395.09,931.78 396.46,934.02 397.83,933.54 399.2,934.32 400.57,937.32 401.94,935.99 403.31,937.42 404.69,939.02 406.06,938.46 407.43,937.91 408.8,938.71 410.17,940.08 411.54,942.05 412.91,939.71 414.28,941.33 415.65,945.5 417.02,912.19 418.39,949.98 419.77,954.97 421.14,950 422.51,956.17 423.88,955.17 425.25,958.03 426.62,947.95 427.99,960.07 429.36,956.74 429.36,964.91 427.99,965.4 426.62,962.73 425.25,963.07 423.88,961.07 422.51,960.91 421.14,962.98 419.77,960.42 418.39,955.51 417.02,956.51 415.65,958.78 414.28,952.84 412.91,950.12 411.54,951.01 410.17,948.45 408.8,949.68 407.43,948.88 406.06,949.59 404.69,947.02 403.31,947.32 401.94,946.68 400.57,946.43 399.2,945.25 397.83,943.33 396.46,943.42 395.09,940.06 393.72,940.44 392.35,939.51 390.98,937.93 389.6,935.07 388.23,957.76 386.86,934.31 385.49,932 384.12,931.56 382.75,928.03 381.38,928.47 380.01,926.47 378.64,926.9 377.26,925.42 375.89,933.24 374.52,925.6 373.15,922.99 371.78,924.85 370.41,922.98 369.04,922.45 367.67,926.08 366.3,918.7 364.93,916.72 363.56,916.42 362.18,915.32 360.81,920.82 359.44,917.6 358.07,913.6 356.7,912.67 355.33,923.02 353.96,909.64 352.59,911.11 351.22,909.28 349.85,913.83 348.47,908.07 347.1,905.19 345.73,904.84 344.36,910.76 342.99,901.67 341.62,901.19 340.25,903.44 338.88,898.56 337.51,897.17 336.13,932.21 334.76,896.37 333.39,896.2 332.02,896.52 330.65,915.86 329.28,914.84 327.91,895.63 326.54,894.29 325.17,896.12 323.8,895.36 322.43,894.22 321.05,894.38 319.68,901.56 318.31,895.05 316.94,891.46 315.57,892.76 314.2,897.47 312.83,889.25 311.46,891.4 310.09,888.85 308.72,894.25 307.34,887.75 305.97,887.39 304.6,886.07 303.23,886.63 301.86,884.08 300.49,899.51 299.12,884.52 297.75,885.09 296.38,893.38 295,881.4 293.63,881.4 292.26,880.77 290.89,881.73 289.52,881.77 288.15,877.24 286.78,888.27 285.41,879.23 284.04,876.87 282.67,874.29 281.29,876.74 279.92,878.24 278.55,875.8 277.18,874.92 275.81,877.64 274.44,891.34 273.07,876.44 271.7,878.29 270.33,878.33 268.96,876.99 267.59,877.11 266.21,879.69 264.84,874.49 263.47,872.85 262.1,875.24 260.73,878.26 259.36,871.88 257.99,869.4 256.62,867.9 255.25,869.36 253.88,867.53 252.5,865.35 251.13,867.65 249.76,868.55 248.39,867.98 247.02,865.07 245.65,869.78 244.28,865.61 242.91,869.58 241.54,867.09 240.16,871.09 238.79,866.39 237.42,865.87 236.05,864.31 234.68,865.74 233.31,864.98 231.94,870.9 230.57,863.72 229.2,864.66 227.83,863.26 226.46,863.27 225.08,861.33 223.71,860.59 222.34,865.97 220.97,859.77 219.6,862.73 218.23,864.23 216.86,858.11 215.49,862.05 214.12,863.07 212.75,857.44 211.37,859.16 210,856.43 208.63,855.65 207.26,856.23 205.89,857.75 204.52,856.65 203.15,858.78 201.78,858.64 200.41,860.01 199.03,854.03 197.66,852.84 196.29,855.23 194.92,851.4 193.55,853.2 192.18,849.38 190.81,851.13 189.44,848.5 188.07,846.43 186.7,845.64 185.32,854.55 183.95,845.27 182.58,845.44 181.21,845.81 179.84,841.01 178.47,841.97 177.1,842.97 175.73,841.86 174.36,839.62 172.99,840.36 171.62,839.15 170.24,848.42 168.87,839.26 167.5,844.77 166.13,838.61 164.76,839.49 163.39,838.27 162.02,841.2 160.65,841.04 159.28,838.95 157.91,839.77 156.53,837.75 155.16,836.75 153.79,831.94 152.42,830.78 151.05,832.07 149.68,829.72 148.31,830.93 146.94,828.94 145.57,828.78 144.19,828.75 142.82,829.27 141.45,826.36 140.08,827.54 138.71,825.63 137.34,823.96 135.97,823.62 134.6,823.05 133.23,820.74 131.86,820.94 130.49,821.06 129.11,821.25 127.74,820.63 126.37,819.55 125,822.47 123.63,819.28 122.26,818.38 120.89,820.83 119.52,819.5 118.15,816.34 116.78,815.34 115.4,815.61 114.03,812.04 112.66,811.14 111.29,811.3 109.92,810.64 108.55,810.5 107.18,809.96 105.81,810.74 104.44,808.85 103.06,809.31 101.69,808.39 100.32,807.3 98.95,806.69 97.58,805.3 96.21,806.08 94.84,803.96 93.47,804.82 92.1,802.96 90.73,802.71 89.36,801.24 87.98,799.78 86.61,800.18 85.24,798.81 83.87,798.66 82.5,794" fill="#E8E68C" stroke="#3a3a00" stroke-width="0.3"/>
<polyline points="82.5,791.98 83.87,793.84 85.24,794.76 86.61,795.43 87.98,795.8 89.36,796.42 90.73,797.2 92.1,797.89 93.47,799.34 94.84,797.33 96.21,799.81 97.58,801.24 98.95,801.6 100.32,801.62 101.69,803.19 103.06,803.59 104.44,805.96 105.81,805.37 107.18,805.69 108.55,805.53 109.92,807.43 111.29,806.91 112.66,806.53 114.03,808.08 115.4,807.79 116.78,808.13 118.15,810.67 119.52,810.02 120.89,811.75 122.26,812.12 123.63,811.45 125,813.03 126.37,811.93 127.74,813.73 129.11,812.31 130.49,813.1 131.86,812.98 133.23,815.83 134.6,816.74 135.97,816.38 137.34,817.46 138.71,817.82 140.08,818.44 141.45,818.4 142.82,819.07 144.19,817.33 145.57,820.84 146.94,824.45 148.31,822.16 149.68,820.6 151.05,825.25 152.42,823.87 153.79,818.38 155.16,824.32 156.53,824.64 157.91,824.34 159.28,822.76 160.65,827.82 162.02,827.48 163.39,829.95 164.76,827.91 166.13,826.32 167.5,829.54 168.87,832.27 170.24,827.82 171.62,825.94 172.99,828.67 174.36,822.6 175.73,826.51 177.1,828.55 178.47,833.31 179.84,830.42 181.21,832.08 182.58,834.98 183.95,835.33 185.32,816.74 186.7,836.5 188.07,838.1 189.44,836.92 190.81,834.53 192.18,838.06 193.55,839.5 194.92,839.52 196.29,833.09 197.66,838.61 199.03,837.87 200.41,831.05 201.78,840.51 203.15,843.65 204.52,846.78 205.89,844.33 207.26,839.56 208.63,842.48 210,837.18 211.37,839.31 212.75,841.18 214.12,846.37 215.49,839.22 216.86,843.55 218.23,842.13 219.6,838.2 220.97,841.69 222.34,844.08 223.71,842.17 225.08,846.97 226.46,846.29 227.83,850.22 229.2,849.52 230.57,852.81 231.94,837.18 233.31,851.47 234.68,853.05 236.05,854.63 237.42,853.87 238.79,851.62 240.16,853.68 241.54,854.44 242.91,854.11 244.28,854.32 245.65,858.67 247.02,855.53 248.39,855.4 249.76,859.01 251.13,859.01 252.5,858.29 253.88,860.6 255.25,860.19 256.62,860.02 257.99,861.55 259.36,860.32 260.73,860.17 262.1,856.13 263.47,857.57 264.84,862.08 266.21,860.53 267.59,856.64 268.96,857.62 270.33,856.73 271.7,861.38 273.07,864.78 274.44,841.27 275.81,858.11 277.18,862.78 278.55,857.29 279.92,862.94 281.29,865.42 282.67,862.27 284.04,867.3 285.41,868.12 286.78,862.73 288.15,864.54 289.52,861.71 290.89,869.15 292.26,869.82 293.63,869.31 295,864.77 296.38,865.15 297.75,868.48 299.12,867.1 300.49,861.71 301.86,869 303.23,871.52 304.6,871.24 305.97,871.94 307.34,875.28 308.72,876.55 310.09,868.13 311.46,874.97 312.83,873.96 314.2,855.57 315.57,874.87 316.94,876.38 318.31,876.35 319.68,871.92 321.05,876.83 322.43,883.1 323.8,885.65 325.17,880.9 326.54,881.65 327.91,883.58 329.28,863.75 330.65,860.68 332.02,881.94 333.39,884.44 334.76,884.28 336.13,882.9 337.51,885.51 338.88,888.9 340.25,888.84 341.62,890.88 342.99,891.28 344.36,884.05 345.73,893.59 347.1,883.16 348.47,885.78 349.85,895.52 351.22,886.08 352.59,890.5 353.96,897.83 355.33,892.36 356.7,896.39 358.07,900.85 359.44,899.15 360.81,900.47 362.18,903.01 363.56,901.23 364.93,904.62 366.3,904.63 367.67,895.43 369.04,903.23 370.41,902.78 371.78,906.74 373.15,909.73 374.52,910.55 375.89,911.71 377.26,912.48 378.64,912.05 380.01,912.71 381.38,905.65 382.75,913.45 384.12,914.04 385.49,916.33 386.86,897.47 388.23,914.58 389.6,924.66 390.98,925.92 392.35,922 393.72,929.49 395.09,931.78 396.46,934.02 397.83,933.54 399.2,934.32 400.57,937.32 401.94,935.99 403.31,937.42 404.69,939.02 406.06,938.46 407.43,937.91 408.8,938.71 410.17,940.08 411.54,942.05 412.91,939.71 414.28,941.33 415.65,945.5 417.02,912.19 418.39,949.98 419.77,954.97 421.14,950 422.51,956.17 423.88,955.17 425.25,958.03 426.62,947.95 427.99,960.07 429.36,956.74" fill="none" stroke="#B01818" stroke-width="1.0" stroke-linejoin="round"/>
<polyline points="82.5,794 83.87,798.66 85.24,798.81 86.61,800.18 87.98,799.78 89.36,801.24 90.73,802.71 92.1,802.96 93.47,804.82 94.84,803.96 96.21,806.08 97.58,805.3 98.95,806.69 100.32,807.3 101.69,808.39 103.06,809.31 104.44,808.85 105.81,810.74 107.18,809.96 108.55,810.5 109.92,810.64 111.29,811.3 112.66,811.14 114.03,812.04 115.4,815.61 116.78,815.34 118.15,816.34 119.52,819.5 120.89,820.83 122.26,818.38 123.63,819.28 125,822.47 126.37,819.55 127.74,820.63 129.11,821.25 130.49,821.06 131.86,820.94 133.23,820.74 134.6,823.05 135.97,823.62 137.34,823.96 138.71,825.63 140.08,827.54 141.45,826.36 142.82,829.27 144.19,828.75 145.57,828.78 146.94,828.94 148.31,830.93 149.68,829.72 151.05,832.07 152.42,830.78 153.79,831.94 155.16,836.75 156.53,837.75 157.91,839.77 159.28,838.95 160.65,841.04 162.02,841.2 163.39,838.27 164.76,839.49 166.13,838.61 167.5,844.77 168.87,839.26 170.24,848.42 171.62,839.15 172.99,840.36 174.36,839.62 175.73,841.86 177.1,842.97 178.47,841.97 179.84,841.01 181.21,845.81 182.58,845.44 183.95,845.27 185.32,854.55 186.7,845.64 188.07,846.43 189.44,848.5 190.81,851.13 192.18,849.38 193.55,853.2 194.92,851.4 196.29,855.23 197.66,852.84 199.03,854.03 200.41,860.01 201.78,858.64 203.15,858.78 204.52,856.65 205.89,857.75 207.26,856.23 208.63,855.65 210,856.43 211.37,859.16 212.75,857.44 214.12,863.07 215.49,862.05 216.86,858.11 218.23,864.23 219.6,862.73 220.97,859.77 222.34,865.97 223.71,860.59 225.08,861.33 226.46,863.27 227.83,863.26 229.2,864.66 230.57,863.72 231.94,870.9 233.31,864.98 234.68,865.74 236.05,864.31 237.42,865.87 238.79,866.39 240.16,871.09 241.54,867.09 242.91,869.58 244.28,865.61 245.65,869.78 247.02,865.07 248.39,867.98 249.76,868.55 251.13,867.65 252.5,865.35 253.88,867.53 255.25,869.36 256.62,867.9 257.99,869.4 259.36,871.88 260.73,878.26 262.1,875.24 263.47,872.85 264.84,874.49 266.21,879.69 267.59,877.11 268.96,876.99 270.33,878.33 271.7,878.29 273.07,876.44 274.44,891.34 275.81,877.64 277.18,874.92 278.55,875.8 279.92,878.24 281.29,876.74 282.67,874.29 284.04,876.87 285.41,879.23 286.78,888.27 288.15,877.24 289.52,881.77 290.89,881.73 292.26,880.77 293.63,881.4 295,881.4 296.38,893.38 297.75,885.09 299.12,884.52 300.49,899.51 301.86,884.08 303.23,886.63 304.6,886.07 305.97,887.39 307.34,887.75 308.72,894.25 310.09,888.85 311.46,891.4 312.83,889.25 314.2,897.47 315.57,892.76 316.94,891.46 318.31,895.05 319.68,901.56 321.05,894.38 322.43,894.22 323.8,895.36 325.17,896.12 326.54,894.29 327.91,895.63 329.28,914.84 330.65,915.86 332.02,896.52 333.39,896.2 334.76,896.37 336.13,932.21 337.51,897.17 338.88,898.56 340.25,903.44 341.62,901.19 342.99,901.67 344.36,910.76 345.73,904.84 347.1,905.19 348.47,908.07 349.85,913.83 351.22,909.28 352.59,911.11 353.96,909.64 355.33,923.02 356.7,912.67 358.07,913.6 359.44,917.6 360.81,920.82 362.18,915.32 363.56,916.42 364.93,916.72 366.3,918.7 367.67,926.08 369.04,922.45 370.41,922.98 371.78,924.85 373.15,922.99 374.52,925.6 375.89,933.24 377.26,925.42 378.64,926.9 380.01,926.47 381.38,928.47 382.75,928.03 384.12,931.56 385.49,932 386.86,934.31 388.23,957.76 389.6,935.07 390.98,937.93 392.35,939.51 393.72,940.44 395.09,940.06 396.46,943.42 397.83,943.33 399.2,945.25 400.57,946.43 401.94,946.68 403.31,947.32 404.69,947.02 406.06,949.59 407.43,948.88 408.8,949.68 410.17,948.45 411.54,951.01 412.91,950.12 414.28,952.84 415.65,958.78 417.02,956.51 418.39,955.51 419.77,960.42 421.14,962.98 422.51,960.91 423.88,961.07 425.25,963.07 426.62,962.73 427.99,965.4 429.36,964.91" fill="none" stroke="#1010B0" stroke-width="1.0" stroke-linejoin="round"/>
<polyline points="82.5,793.2 83.87,794.26 85.24,795.68 86.61,796.98 87.98,797 89.36,798.01 90.73,798.62 92.1,798.36 93.47,800.37 94.84,800.79 96.21,800.86 97.58,801.77 98.95,802.79 100.32,803.1 101.69,804.02 103.06,804.44 104.44,806.47 105.81,806.69 107.18,806.92 108.55,806.17 109.92,807.91 111.29,807.31 112.66,807.2 114.03,808.56 115.4,808.75 116.78,809.31 118.15,811.09 119.52,811.15 120.89,813 122.26,812.45 123.63,812.47 125,813.56 126.37,812.58 127.74,814.12 129.11,813.27 130.49,814.41 131.86,814.59 133.23,816.37 134.6,817.16 135.97,816.8 137.34,818.07 138.71,818.24 140.08,819.3 141.45,819.33 142.82,819.42 144.19,818.21 145.57,821.93 146.94,825.18 148.31,822.86 149.68,822.26 151.05,826.34 152.42,824.38 153.79,824.52 155.16,825.08 156.53,825.07 157.91,825.63 159.28,824.82 160.65,828.45 162.02,828.41 163.39,830.71 164.76,828.86 166.13,827.04 167.5,830.07 168.87,833.09 170.24,830.48 171.62,829.84 172.99,829.48 174.36,829.77 175.73,830.94 177.1,829.75 178.47,833.71 179.84,831.21 181.21,832.47 182.58,835.63 183.95,836.96 185.32,835.7 186.7,837.68 188.07,838.61 189.44,837.6 190.81,835.65 192.18,839.52 193.55,840.21 194.92,839.84 196.29,838 197.66,839.17 199.03,838.71 200.41,840.34 201.78,845.81 203.15,849.3 204.52,847.31 205.89,845.96 207.26,844.97 208.63,842.8 210,841.53 211.37,840.92 212.75,842.73 214.12,847 215.49,845.89 216.86,844.64 218.23,843.43 219.6,841.83 220.97,843.15 222.34,844.54 223.71,843.25 225.08,847.42 226.46,847.26 227.83,851.18 229.2,850.26 230.57,853.43 231.94,851.19 233.31,852.21 234.68,853.47 236.05,854.98 237.42,854.68 238.79,852.48 240.16,854.95 241.54,855.13 242.91,854.88 244.28,855.15 245.65,859.24 247.02,856.76 248.39,856.71 249.76,859.48 251.13,859.36 252.5,859.43 253.88,861 255.25,860.91 256.62,861.05 257.99,862.25 259.36,861.6 260.73,860.62 262.1,861.35 263.47,861.53 264.84,863 266.21,861.55 267.59,860.86 268.96,864.06 270.33,862.41 271.7,861.93 273.07,865.09 274.44,863.29 275.81,864.81 277.18,863.1 278.55,862.68 279.92,863.65 281.29,865.85 282.67,867.34 284.04,867.67 285.41,868.92 286.78,867.55 288.15,870.26 289.52,868.09 290.89,870.25 292.26,870.85 293.63,870.74 295,870.96 296.38,865.63 297.75,869.67 299.12,871.01 300.49,871.41 301.86,869.78 303.23,872.87 304.6,876.11 305.97,872.39 307.34,875.8 308.72,876.9 310.09,874.46 311.46,876.5 312.83,874.29 314.2,874.86 315.57,875.2 316.94,877 318.31,877.12 319.68,880.83 321.05,880.28 322.43,883.64 323.8,886.4 325.17,885.27 326.54,881.99 327.91,884.32 329.28,882.25 330.65,883.16 332.02,882.69 333.39,885.05 334.76,885.17 336.13,884.02 337.51,885.89 338.88,889.85 340.25,889.33 341.62,892.27 342.99,891.85 344.36,890.88 345.73,894.05 347.1,891.82 348.47,890.53 349.85,897.01 351.22,891.92 352.59,896.76 353.96,898.34 355.33,898.33 356.7,896.82 358.07,902.05 359.44,899.86 360.81,901.37 362.18,904.17 363.56,906.62 364.93,905.37 366.3,905.56 367.67,903.19 369.04,904.46 370.41,904.98 371.78,908.09 373.15,911.33 374.52,911.2 375.89,913.35 377.26,912.86 378.64,912.96 380.01,913.88 381.38,913.54 382.75,914.68 384.12,914.41 385.49,917.49 386.86,915.48 388.23,916.29 389.6,925.5 390.98,929.22 392.35,931.32 393.72,930.4 395.09,932.54 396.46,934.69 397.83,934.38 399.2,934.73 400.57,937.8 401.94,937.45 403.31,938.35 404.69,939.93 406.06,940.35 407.43,938.64 408.8,939.3 410.17,941.85 411.54,942.62 412.91,940.94 414.28,946 415.65,945.91 417.02,951.75 418.39,951.03 419.77,955.97 421.14,954.62 422.51,956.66 423.88,955.84 425.25,958.69 426.62,959.66 427.99,960.78 429.36,962.74" fill="none" stroke="#000" stroke-width="2.3" stroke-linejoin="round" stroke-linecap="square"/>
<rect x="65.5" y="784.5" width="381.2" height="189.4" fill="none" stroke="#000" stroke-width="1.2"/>
<line x1="60.5" y1="966.8" x2="65.5" y2="966.8" stroke="#000" stroke-width="1.15"/>
<text x="55.9" y="970.05" font-size="8.2" text-anchor="end">0.0</text>
<line x1="60.5" y1="932.1" x2="65.5" y2="932.1" stroke="#000" stroke-width="1.15"/>
<text x="55.9" y="935.35" font-size="8.2" text-anchor="end">0.2</text>
<line x1="60.5" y1="897.4" x2="65.5" y2="897.4" stroke="#000" stroke-width="1.15"/>
<text x="55.9" y="900.65" font-size="8.2" text-anchor="end">0.4</text>
<line x1="60.5" y1="862.7" x2="65.5" y2="862.7" stroke="#000" stroke-width="1.15"/>
<text x="55.9" y="865.95" font-size="8.2" text-anchor="end">0.6</text>
<line x1="60.5" y1="828" x2="65.5" y2="828" stroke="#000" stroke-width="1.15"/>
<text x="55.9" y="831.25" font-size="8.2" text-anchor="end">0.8</text>
<line x1="60.5" y1="793.3" x2="65.5" y2="793.3" stroke="#000" stroke-width="1.15"/>
<text x="55.9" y="796.55" font-size="8.2" text-anchor="end">1.0</text>
<line x1="82.5" y1="973.9" x2="82.5" y2="978.9" stroke="#000" stroke-width="1.15"/>
<text x="82.5" y="989.8" font-size="8.2" text-anchor="middle">0</text>
<line x1="151.05" y1="973.9" x2="151.05" y2="978.9" stroke="#000" stroke-width="1.15"/>
<text x="151.05" y="989.8" font-size="8.2" text-anchor="middle">50</text>
<line x1="219.6" y1="973.9" x2="219.6" y2="978.9" stroke="#000" stroke-width="1.15"/>
<text x="219.6" y="989.8" font-size="8.2" text-anchor="middle">100</text>
<line x1="288.15" y1="973.9" x2="288.15" y2="978.9" stroke="#000" stroke-width="1.15"/>
<text x="288.15" y="989.8" font-size="8.2" text-anchor="middle">150</text>
<line x1="356.7" y1="973.9" x2="356.7" y2="978.9" stroke="#000" stroke-width="1.15"/>
<text x="356.7" y="989.8" font-size="8.2" text-anchor="middle">200</text>
<line x1="425.25" y1="973.9" x2="425.25" y2="978.9" stroke="#000" stroke-width="1.15"/>
<text x="425.25" y="989.8" font-size="8.2" text-anchor="middle">250</text>
<text x="256" y="1002.9" font-size="8.2" text-anchor="middle">Sorted 254 labels</text>
<text x="36" y="879.2" font-size="8.2" text-anchor="middle" transform="rotate(-90 36 879.2)">AUPRC</text>
<line x1="72.2" y1="938.3" x2="89.6" y2="938.3" stroke="#B01818" stroke-width="0.8"/>
<text x="95.7" y="941.1" font-size="8.2" text-anchor="start">Max of 12 losses</text>
<line x1="72.2" y1="950.1" x2="89.6" y2="950.1" stroke="#1010B0" stroke-width="0.8"/>
<text x="95.7" y="953" font-size="8.2" text-anchor="start">Min of 12 losses</text>
<line x1="72.2" y1="962" x2="89.6" y2="962" stroke="#000" stroke-width="1.9"/>
<text x="95.7" y="964.8" font-size="8.2" text-anchor="start">MESEL</text>
<text x="487.3" y="776.1" font-size="11" text-anchor="start">f</text>
<text x="606.7" y="776.6" font-size="8.25" text-anchor="middle">Two training schemes</text>
<path d="M569.7 793.35 L568.22 795.27 L566.82 797.19 L565.52 799.1 L564.32 801.02 L563.24 802.94 L562.27 804.85 L561.4 806.77 L560.6 808.69 L559.87 810.6 L559.22 812.52 L558.65 814.44 L558.12 816.35 L557.64 818.27 L557.2 820.19 L556.82 822.1 L556.48 824.02 L556.18 825.94 L555.9 827.85 L555.65 829.77 L555.43 831.69 L555.22 833.6 L555.03 835.52 L554.85 837.44 L554.7 839.35 L554.59 841.27 L554.5 843.19 L554.42 845.1 L554.35 847.02 L554.31 848.94 L554.3 850.85 L554.31 852.77 L554.32 854.69 L554.35 856.6 L554.38 858.52 L554.44 860.44 L554.61 862.35 L554.89 864.27 L555.23 866.19 L555.59 868.11 L555.95 870.02 L556.38 871.94 L556.85 873.86 L557.35 875.77 L557.84 877.69 L558.33 879.61 L558.82 881.52 L559.32 883.44 L559.83 885.36 L560.35 887.27 L560.88 889.19 L561.43 891.11 L561.98 893.02 L562.53 894.94 L563.05 896.86 L563.58 898.77 L564.1 900.69 L564.61 902.61 L565.08 904.52 L565.51 906.44 L565.92 908.36 L566.31 910.27 L566.67 912.19 L567.01 914.11 L567.32 916.02 L567.62 917.94 L567.9 919.86 L568.15 921.77 L568.38 923.69 L568.58 925.61 L568.75 927.52 L568.91 929.44 L569.06 931.36 L569.22 933.27 L569.36 935.19 L569.49 937.11 L569.63 939.02 L569.78 940.94 L569.96 942.86 L570.19 944.77 L570.45 946.69 L570.74 948.61 L571.05 950.52 L571.37 952.44 L571.73 954.36 L572.11 956.27 L572.52 958.19 L572.95 960.11 L573.42 962.02 L573.9 963.94 L581.5 963.94 L581.98 962.02 L582.45 960.11 L582.88 958.19 L583.29 956.27 L583.67 954.36 L584.03 952.44 L584.35 950.52 L584.66 948.61 L584.95 946.69 L585.21 944.77 L585.44 942.86 L585.62 940.94 L585.77 939.02 L585.91 937.11 L586.04 935.19 L586.18 933.27 L586.34 931.36 L586.49 929.44 L586.65 927.52 L586.82 925.61 L587.02 923.69 L587.25 921.77 L587.5 919.86 L587.78 917.94 L588.08 916.02 L588.39 914.11 L588.73 912.19 L589.09 910.27 L589.48 908.36 L589.89 906.44 L590.32 904.52 L590.79 902.61 L591.3 900.69 L591.82 898.77 L592.35 896.86 L592.87 894.94 L593.42 893.02 L593.97 891.11 L594.52 889.19 L595.05 887.27 L595.57 885.36 L596.08 883.44 L596.58 881.52 L597.07 879.61 L597.56 877.69 L598.05 875.77 L598.55 873.86 L599.02 871.94 L599.45 870.02 L599.81 868.11 L600.17 866.19 L600.51 864.27 L600.79 862.35 L600.96 860.44 L601.02 858.52 L601.05 856.6 L601.08 854.69 L601.09 852.77 L601.1 850.85 L601.09 848.94 L601.05 847.02 L600.98 845.1 L600.9 843.19 L600.81 841.27 L600.7 839.35 L600.55 837.44 L600.37 835.52 L600.18 833.6 L599.97 831.69 L599.75 829.77 L599.5 827.85 L599.22 825.94 L598.92 824.02 L598.58 822.1 L598.2 820.19 L597.76 818.27 L597.28 816.35 L596.75 814.44 L596.18 812.52 L595.53 810.6 L594.8 808.69 L594 806.77 L593.13 804.85 L592.16 802.94 L591.08 801.02 L589.88 799.1 L588.58 797.19 L587.18 795.27 L585.7 793.35 Z" fill="#FF4500" stroke="#8B0000" stroke-width="1.6" stroke-linejoin="round"/>
<line x1="577.7" y1="793.35" x2="577.7" y2="963.94" stroke="#000" stroke-width="2"/>
<rect x="572.25" y="831.38" width="10.9" height="60.73" fill="#000"/>
<line x1="566.45" y1="864.45" x2="588.95" y2="864.45" stroke="#000" stroke-width="1.7"/>
<circle cx="577.7" cy="860.95" r="3.9" fill="#fff"/>
<path d="M627 793.35 L625.5 795.28 L624.09 797.21 L622.77 799.13 L621.55 801.06 L620.44 802.99 L619.43 804.92 L618.51 806.84 L617.66 808.77 L616.88 810.7 L616.2 812.62 L615.61 814.55 L615.07 816.48 L614.58 818.4 L614.15 820.33 L613.78 822.26 L613.48 824.19 L613.21 826.11 L612.97 828.04 L612.77 829.97 L612.6 831.89 L612.47 833.82 L612.35 835.75 L612.24 837.68 L612.15 839.6 L612.09 841.53 L612.03 843.46 L611.97 845.38 L611.93 847.31 L611.9 849.24 L611.9 851.16 L611.92 853.09 L611.96 855.02 L612.02 856.95 L612.08 858.87 L612.15 860.8 L612.26 862.73 L612.41 864.65 L612.58 866.58 L612.78 868.51 L613.02 870.43 L613.35 872.36 L613.73 874.29 L614.14 876.22 L614.55 878.14 L614.98 880.07 L615.45 882 L615.94 883.92 L616.46 885.85 L616.99 887.78 L617.55 889.71 L618.15 891.63 L618.75 893.56 L619.35 895.49 L619.95 897.41 L620.56 899.34 L621.17 901.27 L621.76 903.19 L622.3 905.12 L622.81 907.05 L623.3 908.98 L623.76 910.9 L624.17 912.83 L624.51 914.76 L624.8 916.68 L625.04 918.61 L625.27 920.54 L625.47 922.47 L625.65 924.39 L625.8 926.32 L625.94 928.25 L626.08 930.17 L626.22 932.1 L626.38 934.03 L626.55 935.95 L626.73 937.88 L626.92 939.81 L627.14 941.74 L627.39 943.66 L627.7 945.59 L628.05 947.52 L628.41 949.44 L628.79 951.37 L629.17 953.3 L629.58 955.23 L630.01 957.15 L630.45 959.08 L630.89 961.01 L631.34 962.93 L631.8 964.86 L639.2 964.86 L639.66 962.93 L640.11 961.01 L640.55 959.08 L640.99 957.15 L641.42 955.23 L641.83 953.3 L642.21 951.37 L642.59 949.44 L642.95 947.52 L643.3 945.59 L643.61 943.66 L643.86 941.74 L644.08 939.81 L644.27 937.88 L644.45 935.95 L644.62 934.03 L644.78 932.1 L644.92 930.17 L645.06 928.25 L645.2 926.32 L645.35 924.39 L645.53 922.47 L645.73 920.54 L645.96 918.61 L646.2 916.68 L646.49 914.76 L646.83 912.83 L647.24 910.9 L647.7 908.98 L648.19 907.05 L648.7 905.12 L649.24 903.19 L649.83 901.27 L650.44 899.34 L651.05 897.41 L651.65 895.49 L652.25 893.56 L652.85 891.63 L653.45 889.71 L654.01 887.78 L654.54 885.85 L655.06 883.92 L655.55 882 L656.02 880.07 L656.45 878.14 L656.86 876.22 L657.27 874.29 L657.65 872.36 L657.98 870.43 L658.22 868.51 L658.42 866.58 L658.59 864.65 L658.74 862.73 L658.85 860.8 L658.92 858.87 L658.98 856.95 L659.04 855.02 L659.08 853.09 L659.1 851.16 L659.1 849.24 L659.07 847.31 L659.03 845.38 L658.97 843.46 L658.91 841.53 L658.85 839.6 L658.76 837.68 L658.65 835.75 L658.53 833.82 L658.4 831.89 L658.23 829.97 L658.03 828.04 L657.79 826.11 L657.52 824.19 L657.22 822.26 L656.85 820.33 L656.42 818.4 L655.93 816.48 L655.39 814.55 L654.8 812.62 L654.12 810.7 L653.34 808.77 L652.49 806.84 L651.57 804.92 L650.56 802.99 L649.45 801.06 L648.23 799.13 L646.91 797.21 L645.5 795.28 L644 793.35 Z" fill="#C0C0C0" stroke="#000" stroke-width="1.6" stroke-linejoin="round"/>
<line x1="635.5" y1="793.35" x2="635.5" y2="964.86" stroke="#000" stroke-width="2"/>
<rect x="630.05" y="831.02" width="10.9" height="61.6" fill="#000"/>
<line x1="624.25" y1="865.67" x2="646.75" y2="865.67" stroke="#000" stroke-width="1.7"/>
<circle cx="635.5" cy="861.48" r="3.9" fill="#fff"/>
<rect x="549.55" y="784.9" width="114.95" height="189.2" fill="none" stroke="#000" stroke-width="1.2"/>
<line x1="544.55" y1="968.8" x2="549.55" y2="968.8" stroke="#000" stroke-width="1.15"/>
<text x="539.95" y="972.05" font-size="8.2" text-anchor="end">0.0</text>
<line x1="544.55" y1="933.8" x2="549.55" y2="933.8" stroke="#000" stroke-width="1.15"/>
<text x="539.95" y="937.05" font-size="8.2" text-anchor="end">0.2</text>
<line x1="544.55" y1="898.8" x2="549.55" y2="898.8" stroke="#000" stroke-width="1.15"/>
<text x="539.95" y="902.05" font-size="8.2" text-anchor="end">0.4</text>
<line x1="544.55" y1="863.8" x2="549.55" y2="863.8" stroke="#000" stroke-width="1.15"/>
<text x="539.95" y="867.05" font-size="8.2" text-anchor="end">0.6</text>
<line x1="544.55" y1="828.8" x2="549.55" y2="828.8" stroke="#000" stroke-width="1.15"/>
<text x="539.95" y="832.05" font-size="8.2" text-anchor="end">0.8</text>
<line x1="544.55" y1="793.8" x2="549.55" y2="793.8" stroke="#000" stroke-width="1.15"/>
<text x="539.95" y="797.05" font-size="8.2" text-anchor="end">1.0</text>
<text x="519.5" y="879.5" font-size="8.2" text-anchor="middle" transform="rotate(-90 519.5 879.5)">AUPRC</text>
<line x1="577.7" y1="974.1" x2="577.7" y2="979.1" stroke="#000" stroke-width="1.15"/>
<text x="577.7" y="989.8" font-size="8.2" text-anchor="middle">12</text>
<line x1="635.5" y1="974.1" x2="635.5" y2="979.1" stroke="#000" stroke-width="1.15"/>
<text x="635.5" y="989.8" font-size="8.2" text-anchor="middle">1</text>
<text x="606.7" y="1002.9" font-size="8.2" text-anchor="middle">Number of models</text>
</svg>
</body></html>
